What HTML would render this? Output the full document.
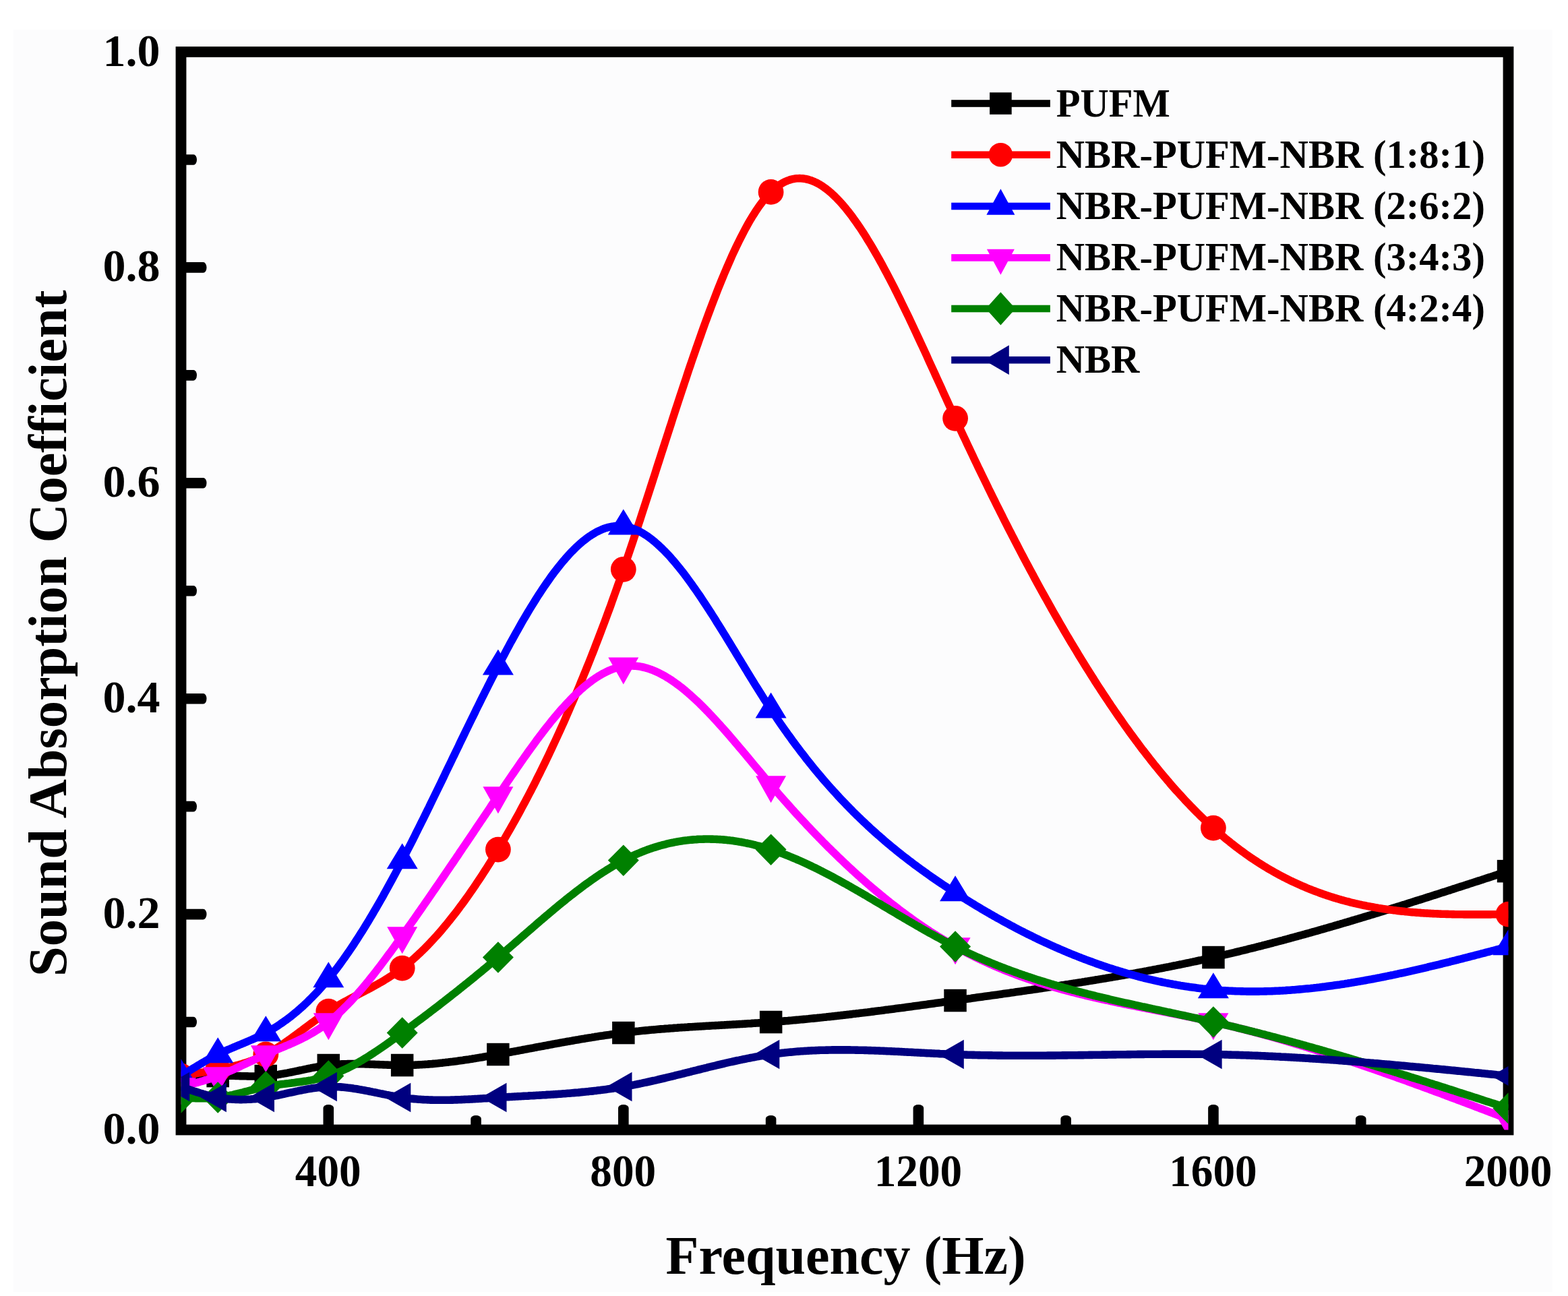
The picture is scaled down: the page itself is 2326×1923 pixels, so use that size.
<!DOCTYPE html>
<html><head><meta charset="utf-8"><title>Sound Absorption Coefficient</title>
<style>
html,body{margin:0;padding:0;background:#fff;}
svg{display:block;}
text{font-family:"Liberation Serif","Times New Roman",serif;font-weight:bold;fill:#000;}
</style></head><body>
<svg width="2326" height="1923" viewBox="0 0 2326 1923">
<rect x="0" y="0" width="2326" height="1923" fill="#ffffff"/>
<rect x="20" y="44" width="2283" height="1873" fill="#fcfcfd"/>
<defs><clipPath id="pa"><rect x="268.5" y="77.0" width="1969.0" height="1599.5"/></clipPath></defs>

<rect x="268.5" y="77.0" width="1969.0" height="1599.5" fill="none" stroke="#000" stroke-width="15.8"/>
<g fill="#000"><rect x="268.5" y="1508.75" width="23.5" height="15.6" rx="5" ry="7.8"/><rect x="268.5" y="1348.80" width="38.0" height="15.6" rx="5" ry="7.8"/><rect x="268.5" y="1188.85" width="23.5" height="15.6" rx="5" ry="7.8"/><rect x="268.5" y="1028.90" width="38.0" height="15.6" rx="5" ry="7.8"/><rect x="268.5" y="868.95" width="23.5" height="15.6" rx="5" ry="7.8"/><rect x="268.5" y="709.00" width="38.0" height="15.6" rx="5" ry="7.8"/><rect x="268.5" y="549.05" width="23.5" height="15.6" rx="5" ry="7.8"/><rect x="268.5" y="389.10" width="38.0" height="15.6" rx="5" ry="7.8"/><rect x="268.5" y="229.15" width="23.5" height="15.6" rx="5" ry="7.8"/><rect x="479.48" y="1639.0" width="15.6" height="37.5" rx="7.8" ry="5"/><rect x="698.26" y="1655.0" width="15.6" height="21.5" rx="7.8" ry="5"/><rect x="917.03" y="1639.0" width="15.6" height="37.5" rx="7.8" ry="5"/><rect x="1135.81" y="1655.0" width="15.6" height="21.5" rx="7.8" ry="5"/><rect x="1354.59" y="1639.0" width="15.6" height="37.5" rx="7.8" ry="5"/><rect x="1573.37" y="1655.0" width="15.6" height="21.5" rx="7.8" ry="5"/><rect x="1792.14" y="1639.0" width="15.6" height="37.5" rx="7.8" ry="5"/><rect x="2010.92" y="1655.0" width="15.6" height="21.5" rx="7.8" ry="5"/></g>
<text x="237.6" y="1697.0" font-size="68" text-anchor="end">0.0</text>
<text x="237.6" y="1377.1" font-size="68" text-anchor="end">0.2</text>
<text x="237.6" y="1057.2" font-size="68" text-anchor="end">0.4</text>
<text x="237.6" y="737.3" font-size="68" text-anchor="end">0.6</text>
<text x="237.6" y="417.4" font-size="68" text-anchor="end">0.8</text>
<text x="237.6" y="97.5" font-size="68" text-anchor="end">1.0</text>
<text transform="translate(486.8,1760.2) scale(0.96,1)" font-size="68" text-anchor="middle">400</text>
<text transform="translate(924.3,1760.2) scale(0.96,1)" font-size="68" text-anchor="middle">800</text>
<text transform="translate(1361.9,1760.2) scale(0.96,1)" font-size="68" text-anchor="middle">1200</text>
<text transform="translate(1799.4,1760.2) scale(0.96,1)" font-size="68" text-anchor="middle">1600</text>
<text transform="translate(2237.0,1760.2) scale(0.96,1)" font-size="68" text-anchor="middle">2000</text>
<text x="987.6" y="1890" font-size="80">Frequency (Hz)</text>
<text transform="translate(98.3,1449) rotate(-90)" x="0" y="0" font-size="80.4">Sound Absorption Coefficient</text>
<g clip-path="url(#pa)">
<polyline points="268.5,1604.5 270.7,1604.1 272.9,1603.7 275.1,1603.3 277.3,1602.8 279.5,1602.4 281.6,1602.0 283.8,1601.6 286.0,1601.2 288.2,1600.9 290.4,1600.5 292.6,1600.1 294.8,1599.8 297.0,1599.4 299.2,1599.1 301.4,1598.8 303.5,1598.4 305.7,1598.2 307.9,1597.9 310.1,1597.6 312.3,1597.4 314.5,1597.2 316.7,1597.0 318.9,1596.8 321.1,1596.7 323.3,1596.5 325.4,1596.4 327.6,1596.3 329.8,1596.3 332.0,1596.2 334.2,1596.2 336.4,1596.2 338.6,1596.2 340.8,1596.2 343.0,1596.2 345.2,1596.3 347.3,1596.3 349.5,1596.4 351.7,1596.5 353.9,1596.5 356.1,1596.6 358.3,1596.7 360.5,1596.7 362.7,1596.8 364.9,1596.8 367.1,1596.9 369.2,1597.0 371.4,1597.0 373.6,1597.0 375.8,1597.0 378.0,1597.0 380.2,1597.0 382.4,1597.0 384.6,1597.0 386.8,1596.9 389.0,1596.8 391.2,1596.7 393.3,1596.6 395.5,1596.4 397.7,1596.3 399.9,1596.0 402.1,1595.8 404.3,1595.6 406.5,1595.3 408.7,1595.0 410.9,1594.7 413.1,1594.4 415.2,1594.0 417.4,1593.6 419.6,1593.3 421.8,1592.9 424.0,1592.5 426.2,1592.1 428.4,1591.6 430.6,1591.2 432.8,1590.8 435.0,1590.3 437.1,1589.9 439.3,1589.4 441.5,1589.0 443.7,1588.5 445.9,1588.0 448.1,1587.6 450.3,1587.1 452.5,1586.6 454.7,1586.2 456.9,1585.7 459.0,1585.3 461.2,1584.8 463.4,1584.4 465.6,1584.0 467.8,1583.6 470.0,1583.2 472.2,1582.8 474.4,1582.4 476.6,1582.1 478.8,1581.7 481.0,1581.4 483.1,1581.1 485.3,1580.8 487.5,1580.5 489.7,1580.2 491.9,1580.0 494.1,1579.8 496.3,1579.6 498.5,1579.4 500.7,1579.3 502.9,1579.2 505.0,1579.0 507.2,1578.9 509.4,1578.8 511.6,1578.8 513.8,1578.7 516.0,1578.6 518.2,1578.6 520.4,1578.6 522.6,1578.6 524.8,1578.6 526.9,1578.6 529.1,1578.6 531.3,1578.6 533.5,1578.7 535.7,1578.7 537.9,1578.8 540.1,1578.8 542.3,1578.9 544.5,1579.0 546.7,1579.0 548.8,1579.1 551.0,1579.2 553.2,1579.3 555.4,1579.4 557.6,1579.5 559.8,1579.5 562.0,1579.6 564.2,1579.7 566.4,1579.8 568.6,1579.9 570.7,1580.0 572.9,1580.0 575.1,1580.1 577.3,1580.2 579.5,1580.3 581.7,1580.3 583.9,1580.4 586.1,1580.4 588.3,1580.5 590.5,1580.5 592.7,1580.5 594.8,1580.5 597.0,1580.5 599.2,1580.5 601.4,1580.5 603.6,1580.5 605.8,1580.4 608.0,1580.4 610.2,1580.3 612.4,1580.3 614.6,1580.2 616.7,1580.1 618.9,1580.0 621.1,1579.9 623.3,1579.8 625.5,1579.7 627.7,1579.5 629.9,1579.4 632.1,1579.2 634.3,1579.1 636.5,1578.9 638.6,1578.7 640.8,1578.6 643.0,1578.4 645.2,1578.2 647.4,1578.0 649.6,1577.8 651.8,1577.5 654.0,1577.3 656.2,1577.1 658.4,1576.8 660.5,1576.6 662.7,1576.3 664.9,1576.1 667.1,1575.8 669.3,1575.5 671.5,1575.3 673.7,1575.0 675.9,1574.7 678.1,1574.4 680.3,1574.1 682.4,1573.8 684.6,1573.5 686.8,1573.2 689.0,1572.8 691.2,1572.5 693.4,1572.2 695.6,1571.9 697.8,1571.5 700.0,1571.2 702.2,1570.8 704.4,1570.5 706.5,1570.1 708.7,1569.8 710.9,1569.4 713.1,1569.0 715.3,1568.7 717.5,1568.3 719.7,1567.9 721.9,1567.5 724.1,1567.2 726.3,1566.8 728.4,1566.4 730.6,1566.0 732.8,1565.6 735.0,1565.2 737.2,1564.8 739.4,1564.4 741.6,1564.0 743.8,1563.6 746.0,1563.2 748.2,1562.8 750.3,1562.4 752.5,1562.0 754.7,1561.6 756.9,1561.2 759.1,1560.8 761.3,1560.4 763.5,1560.0 765.7,1559.6 767.9,1559.2 770.1,1558.8 772.2,1558.4 774.4,1558.0 776.6,1557.5 778.8,1557.1 781.0,1556.7 783.2,1556.3 785.4,1555.9 787.6,1555.5 789.8,1555.1 792.0,1554.7 794.2,1554.2 796.3,1553.8 798.5,1553.4 800.7,1553.0 802.9,1552.6 805.1,1552.2 807.3,1551.8 809.5,1551.4 811.7,1551.0 813.9,1550.5 816.1,1550.1 818.2,1549.7 820.4,1549.3 822.6,1548.9 824.8,1548.5 827.0,1548.1 829.2,1547.7 831.4,1547.3 833.6,1546.9 835.8,1546.5 838.0,1546.1 840.1,1545.7 842.3,1545.3 844.5,1545.0 846.7,1544.6 848.9,1544.2 851.1,1543.8 853.3,1543.4 855.5,1543.0 857.7,1542.7 859.9,1542.3 862.0,1541.9 864.2,1541.5 866.4,1541.2 868.6,1540.8 870.8,1540.4 873.0,1540.1 875.2,1539.7 877.4,1539.4 879.6,1539.0 881.8,1538.7 883.9,1538.3 886.1,1538.0 888.3,1537.6 890.5,1537.3 892.7,1537.0 894.9,1536.7 897.1,1536.3 899.3,1536.0 901.5,1535.7 903.7,1535.4 905.9,1535.1 908.0,1534.8 910.2,1534.5 912.4,1534.2 914.6,1533.9 916.8,1533.6 919.0,1533.3 921.2,1533.0 923.4,1532.7 925.6,1532.5 927.8,1532.2 929.9,1531.9 932.1,1531.7 934.3,1531.4 936.5,1531.2 938.7,1530.9 940.9,1530.7 943.1,1530.4 945.3,1530.2 947.5,1530.0 949.7,1529.7 951.8,1529.5 954.0,1529.3 956.2,1529.1 958.4,1528.9 960.6,1528.7 962.8,1528.4 965.0,1528.2 967.2,1528.0 969.4,1527.9 971.6,1527.7 973.7,1527.5 975.9,1527.3 978.1,1527.1 980.3,1526.9 982.5,1526.7 984.7,1526.6 986.9,1526.4 989.1,1526.2 991.3,1526.1 993.5,1525.9 995.7,1525.7 997.8,1525.6 1000.0,1525.4 1002.2,1525.2 1004.4,1525.1 1006.6,1524.9 1008.8,1524.8 1011.0,1524.6 1013.2,1524.5 1015.4,1524.4 1017.6,1524.2 1019.7,1524.1 1021.9,1523.9 1024.1,1523.8 1026.3,1523.7 1028.5,1523.5 1030.7,1523.4 1032.9,1523.2 1035.1,1523.1 1037.3,1523.0 1039.5,1522.9 1041.6,1522.7 1043.8,1522.6 1046.0,1522.5 1048.2,1522.3 1050.4,1522.2 1052.6,1522.1 1054.8,1522.0 1057.0,1521.8 1059.2,1521.7 1061.4,1521.6 1063.5,1521.5 1065.7,1521.4 1067.9,1521.2 1070.1,1521.1 1072.3,1521.0 1074.5,1520.9 1076.7,1520.7 1078.9,1520.6 1081.1,1520.5 1083.3,1520.4 1085.4,1520.2 1087.6,1520.1 1089.8,1520.0 1092.0,1519.9 1094.2,1519.7 1096.4,1519.6 1098.6,1519.5 1100.8,1519.4 1103.0,1519.2 1105.2,1519.1 1107.4,1519.0 1109.5,1518.8 1111.7,1518.7 1113.9,1518.6 1116.1,1518.4 1118.3,1518.3 1120.5,1518.1 1122.7,1518.0 1124.9,1517.9 1127.1,1517.7 1129.3,1517.6 1131.4,1517.4 1133.6,1517.3 1135.8,1517.1 1138.0,1517.0 1140.2,1516.8 1142.4,1516.6 1144.6,1516.5 1146.8,1516.3 1149.0,1516.1 1151.2,1516.0 1153.3,1515.8 1155.5,1515.6 1157.7,1515.5 1159.9,1515.3 1162.1,1515.1 1164.3,1514.9 1166.5,1514.7 1168.7,1514.6 1170.9,1514.4 1173.1,1514.2 1175.2,1514.0 1177.4,1513.8 1179.6,1513.6 1181.8,1513.4 1184.0,1513.2 1186.2,1513.0 1188.4,1512.8 1190.6,1512.6 1192.8,1512.4 1195.0,1512.2 1197.1,1512.0 1199.3,1511.8 1201.5,1511.5 1203.7,1511.3 1205.9,1511.1 1208.1,1510.9 1210.3,1510.7 1212.5,1510.4 1214.7,1510.2 1216.9,1510.0 1219.1,1509.8 1221.2,1509.5 1223.4,1509.3 1225.6,1509.1 1227.8,1508.8 1230.0,1508.6 1232.2,1508.4 1234.4,1508.1 1236.6,1507.9 1238.8,1507.6 1241.0,1507.4 1243.1,1507.1 1245.3,1506.9 1247.5,1506.6 1249.7,1506.4 1251.9,1506.1 1254.1,1505.9 1256.3,1505.6 1258.5,1505.4 1260.7,1505.1 1262.9,1504.9 1265.0,1504.6 1267.2,1504.3 1269.4,1504.1 1271.6,1503.8 1273.8,1503.6 1276.0,1503.3 1278.2,1503.0 1280.4,1502.8 1282.6,1502.5 1284.8,1502.2 1286.9,1502.0 1289.1,1501.7 1291.3,1501.4 1293.5,1501.1 1295.7,1500.9 1297.9,1500.6 1300.1,1500.3 1302.3,1500.0 1304.5,1499.7 1306.7,1499.5 1308.9,1499.2 1311.0,1498.9 1313.2,1498.6 1315.4,1498.3 1317.6,1498.1 1319.8,1497.8 1322.0,1497.5 1324.2,1497.2 1326.4,1496.9 1328.6,1496.6 1330.8,1496.3 1332.9,1496.0 1335.1,1495.7 1337.3,1495.5 1339.5,1495.2 1341.7,1494.9 1343.9,1494.6 1346.1,1494.3 1348.3,1494.0 1350.5,1493.7 1352.7,1493.4 1354.8,1493.1 1357.0,1492.8 1359.2,1492.5 1361.4,1492.2 1363.6,1491.9 1365.8,1491.6 1368.0,1491.3 1370.2,1491.0 1372.4,1490.7 1374.6,1490.4 1376.7,1490.1 1378.9,1489.8 1381.1,1489.5 1383.3,1489.2 1385.5,1488.9 1387.7,1488.6 1389.9,1488.3 1392.1,1488.0 1394.3,1487.7 1396.5,1487.4 1398.6,1487.1 1400.8,1486.8 1403.0,1486.5 1405.2,1486.2 1407.4,1485.9 1409.6,1485.6 1411.8,1485.3 1414.0,1485.0 1416.2,1484.7 1418.4,1484.4 1420.6,1484.1 1422.7,1483.8 1424.9,1483.5 1427.1,1483.2 1429.3,1482.9 1431.5,1482.6 1433.7,1482.3 1435.9,1482.0 1438.1,1481.7 1440.3,1481.4 1442.5,1481.0 1444.6,1480.7 1446.8,1480.4 1449.0,1480.1 1451.2,1479.8 1453.4,1479.5 1455.6,1479.2 1457.8,1478.9 1460.0,1478.6 1462.2,1478.3 1464.4,1478.0 1466.5,1477.7 1468.7,1477.4 1470.9,1477.1 1473.1,1476.8 1475.3,1476.5 1477.5,1476.2 1479.7,1475.9 1481.9,1475.6 1484.1,1475.2 1486.3,1474.9 1488.4,1474.6 1490.6,1474.3 1492.8,1474.0 1495.0,1473.7 1497.2,1473.4 1499.4,1473.1 1501.6,1472.8 1503.8,1472.5 1506.0,1472.1 1508.2,1471.8 1510.3,1471.5 1512.5,1471.2 1514.7,1470.9 1516.9,1470.6 1519.1,1470.3 1521.3,1469.9 1523.5,1469.6 1525.7,1469.3 1527.9,1469.0 1530.1,1468.7 1532.3,1468.3 1534.4,1468.0 1536.6,1467.7 1538.8,1467.4 1541.0,1467.1 1543.2,1466.7 1545.4,1466.4 1547.6,1466.1 1549.8,1465.8 1552.0,1465.4 1554.2,1465.1 1556.3,1464.8 1558.5,1464.5 1560.7,1464.1 1562.9,1463.8 1565.1,1463.5 1567.3,1463.1 1569.5,1462.8 1571.7,1462.5 1573.9,1462.1 1576.1,1461.8 1578.2,1461.5 1580.4,1461.1 1582.6,1460.8 1584.8,1460.5 1587.0,1460.1 1589.2,1459.8 1591.4,1459.4 1593.6,1459.1 1595.8,1458.8 1598.0,1458.4 1600.1,1458.1 1602.3,1457.7 1604.5,1457.4 1606.7,1457.0 1608.9,1456.7 1611.1,1456.3 1613.3,1456.0 1615.5,1455.6 1617.7,1455.3 1619.9,1454.9 1622.1,1454.6 1624.2,1454.2 1626.4,1453.8 1628.6,1453.5 1630.8,1453.1 1633.0,1452.8 1635.2,1452.4 1637.4,1452.0 1639.6,1451.7 1641.8,1451.3 1644.0,1450.9 1646.1,1450.6 1648.3,1450.2 1650.5,1449.8 1652.7,1449.4 1654.9,1449.1 1657.1,1448.7 1659.3,1448.3 1661.5,1447.9 1663.7,1447.6 1665.9,1447.2 1668.0,1446.8 1670.2,1446.4 1672.4,1446.0 1674.6,1445.6 1676.8,1445.2 1679.0,1444.8 1681.2,1444.5 1683.4,1444.1 1685.6,1443.7 1687.8,1443.3 1689.9,1442.9 1692.1,1442.5 1694.3,1442.1 1696.5,1441.7 1698.7,1441.3 1700.9,1440.9 1703.1,1440.4 1705.3,1440.0 1707.5,1439.6 1709.7,1439.2 1711.8,1438.8 1714.0,1438.4 1716.2,1438.0 1718.4,1437.5 1720.6,1437.1 1722.8,1436.7 1725.0,1436.3 1727.2,1435.8 1729.4,1435.4 1731.6,1435.0 1733.8,1434.6 1735.9,1434.1 1738.1,1433.7 1740.3,1433.2 1742.5,1432.8 1744.7,1432.4 1746.9,1431.9 1749.1,1431.5 1751.3,1431.0 1753.5,1430.6 1755.7,1430.1 1757.8,1429.7 1760.0,1429.2 1762.2,1428.8 1764.4,1428.3 1766.6,1427.8 1768.8,1427.4 1771.0,1426.9 1773.2,1426.5 1775.4,1426.0 1777.6,1425.5 1779.7,1425.0 1781.9,1424.6 1784.1,1424.1 1786.3,1423.6 1788.5,1423.1 1790.7,1422.6 1792.9,1422.2 1795.1,1421.7 1797.3,1421.2 1799.5,1420.7 1801.6,1420.2 1803.8,1419.7 1806.0,1419.2 1808.2,1418.7 1810.4,1418.2 1812.6,1417.7 1814.8,1417.2 1817.0,1416.7 1819.2,1416.2 1821.4,1415.6 1823.6,1415.1 1825.7,1414.6 1827.9,1414.1 1830.1,1413.6 1832.3,1413.0 1834.5,1412.5 1836.7,1412.0 1838.9,1411.5 1841.1,1410.9 1843.3,1410.4 1845.5,1409.9 1847.6,1409.3 1849.8,1408.8 1852.0,1408.2 1854.2,1407.7 1856.4,1407.2 1858.6,1406.6 1860.8,1406.1 1863.0,1405.5 1865.2,1404.9 1867.4,1404.4 1869.5,1403.8 1871.7,1403.3 1873.9,1402.7 1876.1,1402.2 1878.3,1401.6 1880.5,1401.0 1882.7,1400.5 1884.9,1399.9 1887.1,1399.3 1889.3,1398.7 1891.4,1398.2 1893.6,1397.6 1895.8,1397.0 1898.0,1396.4 1900.2,1395.8 1902.4,1395.3 1904.6,1394.7 1906.8,1394.1 1909.0,1393.5 1911.2,1392.9 1913.3,1392.3 1915.5,1391.7 1917.7,1391.1 1919.9,1390.5 1922.1,1389.9 1924.3,1389.3 1926.5,1388.7 1928.7,1388.1 1930.9,1387.5 1933.1,1386.9 1935.3,1386.3 1937.4,1385.7 1939.6,1385.1 1941.8,1384.5 1944.0,1383.9 1946.2,1383.2 1948.4,1382.6 1950.6,1382.0 1952.8,1381.4 1955.0,1380.8 1957.2,1380.1 1959.3,1379.5 1961.5,1378.9 1963.7,1378.3 1965.9,1377.6 1968.1,1377.0 1970.3,1376.4 1972.5,1375.7 1974.7,1375.1 1976.9,1374.5 1979.1,1373.8 1981.2,1373.2 1983.4,1372.6 1985.6,1371.9 1987.8,1371.3 1990.0,1370.6 1992.2,1370.0 1994.4,1369.3 1996.6,1368.7 1998.8,1368.1 2001.0,1367.4 2003.1,1366.8 2005.3,1366.1 2007.5,1365.4 2009.7,1364.8 2011.9,1364.1 2014.1,1363.5 2016.3,1362.8 2018.5,1362.2 2020.7,1361.5 2022.9,1360.8 2025.0,1360.2 2027.2,1359.5 2029.4,1358.9 2031.6,1358.2 2033.8,1357.5 2036.0,1356.9 2038.2,1356.2 2040.4,1355.5 2042.6,1354.9 2044.8,1354.2 2047.0,1353.5 2049.1,1352.8 2051.3,1352.2 2053.5,1351.5 2055.7,1350.8 2057.9,1350.1 2060.1,1349.5 2062.3,1348.8 2064.5,1348.1 2066.7,1347.4 2068.9,1346.7 2071.0,1346.1 2073.2,1345.4 2075.4,1344.7 2077.6,1344.0 2079.8,1343.3 2082.0,1342.6 2084.2,1342.0 2086.4,1341.3 2088.6,1340.6 2090.8,1339.9 2092.9,1339.2 2095.1,1338.5 2097.3,1337.8 2099.5,1337.1 2101.7,1336.4 2103.9,1335.7 2106.1,1335.1 2108.3,1334.4 2110.5,1333.7 2112.7,1333.0 2114.8,1332.3 2117.0,1331.6 2119.2,1330.9 2121.4,1330.2 2123.6,1329.5 2125.8,1328.8 2128.0,1328.1 2130.2,1327.4 2132.4,1326.7 2134.6,1326.0 2136.8,1325.3 2138.9,1324.6 2141.1,1323.9 2143.3,1323.2 2145.5,1322.5 2147.7,1321.8 2149.9,1321.1 2152.1,1320.4 2154.3,1319.6 2156.5,1318.9 2158.7,1318.2 2160.8,1317.5 2163.0,1316.8 2165.2,1316.1 2167.4,1315.4 2169.6,1314.7 2171.8,1314.0 2174.0,1313.3 2176.2,1312.6 2178.4,1311.9 2180.6,1311.1 2182.7,1310.4 2184.9,1309.7 2187.1,1309.0 2189.3,1308.3 2191.5,1307.6 2193.7,1306.9 2195.9,1306.2 2198.1,1305.5 2200.3,1304.7 2202.5,1304.0 2204.6,1303.3 2206.8,1302.6 2209.0,1301.9 2211.2,1301.2 2213.4,1300.5 2215.6,1299.8 2217.8,1299.0 2220.0,1298.3 2222.2,1297.6 2224.4,1296.9 2226.5,1296.2 2228.7,1295.5 2230.9,1294.8 2233.1,1294.0 2235.3,1293.3 2237.5,1292.6" fill="none" stroke="#000000" stroke-width="11.6" stroke-linejoin="round"/>
<rect x="251.8" y="1587.8" width="33.5" height="33.5" fill="#000000"/>
<rect x="306.4" y="1579.8" width="33.5" height="33.5" fill="#000000"/>
<rect x="377.5" y="1579.8" width="33.5" height="33.5" fill="#000000"/>
<rect x="470.5" y="1563.8" width="33.5" height="33.5" fill="#000000"/>
<rect x="579.9" y="1563.8" width="33.5" height="33.5" fill="#000000"/>
<rect x="722.1" y="1547.8" width="33.5" height="33.5" fill="#000000"/>
<rect x="908.1" y="1515.8" width="33.5" height="33.5" fill="#000000"/>
<rect x="1126.9" y="1499.8" width="33.5" height="33.5" fill="#000000"/>
<rect x="1400.3" y="1467.8" width="33.5" height="33.5" fill="#000000"/>
<rect x="1783.2" y="1403.8" width="33.5" height="33.5" fill="#000000"/>
<rect x="2220.8" y="1275.9" width="33.5" height="33.5" fill="#000000"/>
<polyline points="268.5,1596.5 270.7,1596.2 272.9,1595.8 275.1,1595.4 277.3,1595.1 279.5,1594.7 281.6,1594.3 283.8,1594.0 286.0,1593.6 288.2,1593.2 290.4,1592.9 292.6,1592.5 294.8,1592.1 297.0,1591.7 299.2,1591.3 301.4,1591.0 303.5,1590.6 305.7,1590.2 307.9,1589.8 310.1,1589.4 312.3,1589.0 314.5,1588.6 316.7,1588.2 318.9,1587.8 321.1,1587.3 323.3,1586.9 325.4,1586.5 327.6,1586.1 329.8,1585.6 332.0,1585.2 334.2,1584.7 336.4,1584.2 338.6,1583.8 340.8,1583.3 343.0,1582.8 345.2,1582.2 347.3,1581.7 349.5,1581.2 351.7,1580.6 353.9,1580.0 356.1,1579.4 358.3,1578.8 360.5,1578.1 362.7,1577.4 364.9,1576.7 367.1,1576.0 369.2,1575.3 371.4,1574.5 373.6,1573.7 375.8,1572.9 378.0,1572.0 380.2,1571.1 382.4,1570.2 384.6,1569.2 386.8,1568.2 389.0,1567.2 391.2,1566.1 393.3,1565.0 395.5,1563.9 397.7,1562.7 399.9,1561.5 402.1,1560.2 404.3,1559.0 406.5,1557.6 408.7,1556.3 410.9,1554.9 413.1,1553.5 415.2,1552.1 417.4,1550.6 419.6,1549.2 421.8,1547.7 424.0,1546.1 426.2,1544.6 428.4,1543.0 430.6,1541.5 432.8,1539.9 435.0,1538.3 437.1,1536.7 439.3,1535.1 441.5,1533.5 443.7,1531.8 445.9,1530.2 448.1,1528.6 450.3,1526.9 452.5,1525.3 454.7,1523.7 456.9,1522.0 459.0,1520.4 461.2,1518.8 463.4,1517.2 465.6,1515.6 467.8,1514.0 470.0,1512.4 472.2,1510.8 474.4,1509.3 476.6,1507.8 478.8,1506.2 481.0,1504.7 483.1,1503.3 485.3,1501.8 487.5,1500.4 489.7,1499.0 491.9,1497.6 494.1,1496.3 496.3,1494.9 498.5,1493.6 500.7,1492.3 502.9,1491.1 505.0,1489.8 507.2,1488.6 509.4,1487.4 511.6,1486.2 513.8,1485.0 516.0,1483.8 518.2,1482.6 520.4,1481.4 522.6,1480.3 524.8,1479.1 526.9,1478.0 529.1,1476.8 531.3,1475.7 533.5,1474.5 535.7,1473.4 537.9,1472.2 540.1,1471.1 542.3,1469.9 544.5,1468.8 546.7,1467.6 548.8,1466.5 551.0,1465.3 553.2,1464.1 555.4,1462.9 557.6,1461.7 559.8,1460.5 562.0,1459.2 564.2,1458.0 566.4,1456.7 568.6,1455.4 570.7,1454.1 572.9,1452.7 575.1,1451.4 577.3,1450.0 579.5,1448.6 581.7,1447.2 583.9,1445.7 586.1,1444.2 588.3,1442.7 590.5,1441.1 592.7,1439.6 594.8,1437.9 597.0,1436.3 599.2,1434.6 601.4,1432.9 603.6,1431.1 605.8,1429.3 608.0,1427.5 610.2,1425.6 612.4,1423.8 614.6,1421.8 616.7,1419.9 618.9,1417.9 621.1,1415.8 623.3,1413.7 625.5,1411.6 627.7,1409.5 629.9,1407.3 632.1,1405.1 634.3,1402.9 636.5,1400.6 638.6,1398.3 640.8,1396.0 643.0,1393.6 645.2,1391.2 647.4,1388.8 649.6,1386.3 651.8,1383.8 654.0,1381.3 656.2,1378.7 658.4,1376.1 660.5,1373.5 662.7,1370.9 664.9,1368.2 667.1,1365.5 669.3,1362.7 671.5,1359.9 673.7,1357.1 675.9,1354.3 678.1,1351.4 680.3,1348.5 682.4,1345.6 684.6,1342.7 686.8,1339.7 689.0,1336.7 691.2,1333.6 693.4,1330.6 695.6,1327.5 697.8,1324.3 700.0,1321.2 702.2,1318.0 704.4,1314.8 706.5,1311.5 708.7,1308.3 710.9,1305.0 713.1,1301.7 715.3,1298.3 717.5,1294.9 719.7,1291.5 721.9,1288.1 724.1,1284.7 726.3,1281.2 728.4,1277.7 730.6,1274.1 732.8,1270.6 735.0,1267.0 737.2,1263.4 739.4,1259.8 741.6,1256.1 743.8,1252.4 746.0,1248.7 748.2,1245.0 750.3,1241.2 752.5,1237.4 754.7,1233.6 756.9,1229.8 759.1,1225.9 761.3,1222.0 763.5,1218.1 765.7,1214.2 767.9,1210.2 770.1,1206.2 772.2,1202.2 774.4,1198.1 776.6,1194.0 778.8,1189.9 781.0,1185.8 783.2,1181.6 785.4,1177.4 787.6,1173.2 789.8,1168.9 792.0,1164.7 794.2,1160.4 796.3,1156.0 798.5,1151.7 800.7,1147.3 802.9,1142.8 805.1,1138.4 807.3,1133.9 809.5,1129.4 811.7,1124.8 813.9,1120.2 816.1,1115.6 818.2,1111.0 820.4,1106.3 822.6,1101.6 824.8,1096.9 827.0,1092.1 829.2,1087.3 831.4,1082.5 833.6,1077.7 835.8,1072.8 838.0,1067.8 840.1,1062.9 842.3,1057.9 844.5,1052.9 846.7,1047.8 848.9,1042.7 851.1,1037.6 853.3,1032.5 855.5,1027.3 857.7,1022.1 859.9,1016.8 862.0,1011.5 864.2,1006.2 866.4,1000.8 868.6,995.5 870.8,990.0 873.0,984.6 875.2,979.1 877.4,973.5 879.6,968.0 881.8,962.4 883.9,956.7 886.1,951.1 888.3,945.4 890.5,939.6 892.7,933.8 894.9,928.0 897.1,922.2 899.3,916.3 901.5,910.3 903.7,904.4 905.9,898.4 908.0,892.3 910.2,886.3 912.4,880.1 914.6,874.0 916.8,867.8 919.0,861.6 921.2,855.3 923.4,849.0 925.6,842.6 927.8,836.3 929.9,829.8 932.1,823.4 934.3,816.9 936.5,810.4 938.7,803.8 940.9,797.2 943.1,790.6 945.3,784.0 947.5,777.3 949.7,770.7 951.8,764.0 954.0,757.2 956.2,750.5 958.4,743.8 960.6,737.0 962.8,730.2 965.0,723.4 967.2,716.6 969.4,709.8 971.6,703.0 973.7,696.2 975.9,689.4 978.1,682.6 980.3,675.7 982.5,668.9 984.7,662.1 986.9,655.3 989.1,648.5 991.3,641.7 993.5,634.9 995.7,628.2 997.8,621.4 1000.0,614.7 1002.2,607.9 1004.4,601.2 1006.6,594.5 1008.8,587.9 1011.0,581.2 1013.2,574.6 1015.4,568.0 1017.6,561.5 1019.7,554.9 1021.9,548.4 1024.1,542.0 1026.3,535.5 1028.5,529.1 1030.7,522.8 1032.9,516.4 1035.1,510.2 1037.3,503.9 1039.5,497.7 1041.6,491.6 1043.8,485.5 1046.0,479.4 1048.2,473.4 1050.4,467.5 1052.6,461.6 1054.8,455.7 1057.0,450.0 1059.2,444.2 1061.4,438.6 1063.5,433.0 1065.7,427.4 1067.9,422.0 1070.1,416.5 1072.3,411.2 1074.5,405.9 1076.7,400.7 1078.9,395.6 1081.1,390.6 1083.3,385.6 1085.4,380.7 1087.6,375.9 1089.8,371.2 1092.0,366.5 1094.2,361.9 1096.4,357.5 1098.6,353.1 1100.8,348.8 1103.0,344.6 1105.2,340.4 1107.4,336.4 1109.5,332.5 1111.7,328.7 1113.9,324.9 1116.1,321.3 1118.3,317.8 1120.5,314.3 1122.7,311.0 1124.9,307.8 1127.1,304.7 1129.3,301.7 1131.4,298.8 1133.6,296.1 1135.8,293.4 1138.0,290.9 1140.2,288.5 1142.4,286.2 1144.6,284.0 1146.8,281.9 1149.0,280.0 1151.2,278.2 1153.3,276.5 1155.5,274.9 1157.7,273.5 1159.9,272.1 1162.1,270.9 1164.3,269.8 1166.5,268.8 1168.7,267.9 1170.9,267.1 1173.1,266.4 1175.2,265.9 1177.4,265.4 1179.6,265.1 1181.8,264.8 1184.0,264.7 1186.2,264.6 1188.4,264.7 1190.6,264.9 1192.8,265.1 1195.0,265.5 1197.1,266.0 1199.3,266.5 1201.5,267.2 1203.7,267.9 1205.9,268.8 1208.1,269.7 1210.3,270.7 1212.5,271.8 1214.7,273.0 1216.9,274.3 1219.1,275.7 1221.2,277.1 1223.4,278.7 1225.6,280.3 1227.8,282.0 1230.0,283.8 1232.2,285.7 1234.4,287.6 1236.6,289.7 1238.8,291.8 1241.0,294.0 1243.1,296.2 1245.3,298.5 1247.5,300.9 1249.7,303.4 1251.9,306.0 1254.1,308.6 1256.3,311.3 1258.5,314.0 1260.7,316.8 1262.9,319.7 1265.0,322.7 1267.2,325.7 1269.4,328.7 1271.6,331.9 1273.8,335.1 1276.0,338.3 1278.2,341.6 1280.4,345.0 1282.6,348.4 1284.8,351.9 1286.9,355.4 1289.1,359.0 1291.3,362.6 1293.5,366.3 1295.7,370.0 1297.9,373.8 1300.1,377.6 1302.3,381.5 1304.5,385.4 1306.7,389.3 1308.9,393.3 1311.0,397.4 1313.2,401.5 1315.4,405.6 1317.6,409.7 1319.8,413.9 1322.0,418.2 1324.2,422.4 1326.4,426.7 1328.6,431.1 1330.8,435.4 1332.9,439.8 1335.1,444.2 1337.3,448.7 1339.5,453.2 1341.7,457.7 1343.9,462.2 1346.1,466.8 1348.3,471.3 1350.5,475.9 1352.7,480.6 1354.8,485.2 1357.0,489.9 1359.2,494.5 1361.4,499.2 1363.6,504.0 1365.8,508.7 1368.0,513.4 1370.2,518.2 1372.4,522.9 1374.6,527.7 1376.7,532.5 1378.9,537.3 1381.1,542.1 1383.3,546.9 1385.5,551.7 1387.7,556.5 1389.9,561.3 1392.1,566.1 1394.3,570.9 1396.5,575.7 1398.6,580.5 1400.8,585.4 1403.0,590.2 1405.2,595.0 1407.4,599.8 1409.6,604.5 1411.8,609.3 1414.0,614.1 1416.2,618.9 1418.4,623.6 1420.6,628.3 1422.7,633.1 1424.9,637.8 1427.1,642.5 1429.3,647.2 1431.5,651.8 1433.7,656.5 1435.9,661.2 1438.1,665.8 1440.3,670.4 1442.5,675.0 1444.6,679.6 1446.8,684.2 1449.0,688.8 1451.2,693.4 1453.4,697.9 1455.6,702.5 1457.8,707.0 1460.0,711.5 1462.2,716.0 1464.4,720.5 1466.5,725.0 1468.7,729.4 1470.9,733.9 1473.1,738.3 1475.3,742.7 1477.5,747.2 1479.7,751.6 1481.9,755.9 1484.1,760.3 1486.3,764.7 1488.4,769.0 1490.6,773.3 1492.8,777.7 1495.0,782.0 1497.2,786.3 1499.4,790.5 1501.6,794.8 1503.8,799.0 1506.0,803.3 1508.2,807.5 1510.3,811.7 1512.5,815.9 1514.7,820.1 1516.9,824.3 1519.1,828.4 1521.3,832.6 1523.5,836.7 1525.7,840.8 1527.9,844.9 1530.1,849.0 1532.3,853.0 1534.4,857.1 1536.6,861.1 1538.8,865.2 1541.0,869.2 1543.2,873.2 1545.4,877.2 1547.6,881.1 1549.8,885.1 1552.0,889.0 1554.2,892.9 1556.3,896.8 1558.5,900.7 1560.7,904.6 1562.9,908.5 1565.1,912.3 1567.3,916.2 1569.5,920.0 1571.7,923.8 1573.9,927.6 1576.1,931.4 1578.2,935.1 1580.4,938.9 1582.6,942.6 1584.8,946.3 1587.0,950.0 1589.2,953.7 1591.4,957.3 1593.6,961.0 1595.8,964.6 1598.0,968.3 1600.1,971.9 1602.3,975.4 1604.5,979.0 1606.7,982.6 1608.9,986.1 1611.1,989.6 1613.3,993.2 1615.5,996.6 1617.7,1000.1 1619.9,1003.6 1622.1,1007.0 1624.2,1010.5 1626.4,1013.9 1628.6,1017.3 1630.8,1020.6 1633.0,1024.0 1635.2,1027.4 1637.4,1030.7 1639.6,1034.0 1641.8,1037.3 1644.0,1040.6 1646.1,1043.8 1648.3,1047.1 1650.5,1050.3 1652.7,1053.5 1654.9,1056.7 1657.1,1059.9 1659.3,1063.1 1661.5,1066.2 1663.7,1069.4 1665.9,1072.5 1668.0,1075.6 1670.2,1078.6 1672.4,1081.7 1674.6,1084.7 1676.8,1087.8 1679.0,1090.8 1681.2,1093.8 1683.4,1096.7 1685.6,1099.7 1687.8,1102.6 1689.9,1105.6 1692.1,1108.5 1694.3,1111.4 1696.5,1114.2 1698.7,1117.1 1700.9,1119.9 1703.1,1122.7 1705.3,1125.5 1707.5,1128.3 1709.7,1131.1 1711.8,1133.8 1714.0,1136.5 1716.2,1139.2 1718.4,1141.9 1720.6,1144.6 1722.8,1147.2 1725.0,1149.9 1727.2,1152.5 1729.4,1155.1 1731.6,1157.7 1733.8,1160.2 1735.9,1162.8 1738.1,1165.3 1740.3,1167.8 1742.5,1170.3 1744.7,1172.8 1746.9,1175.2 1749.1,1177.6 1751.3,1180.0 1753.5,1182.4 1755.7,1184.8 1757.8,1187.2 1760.0,1189.5 1762.2,1191.8 1764.4,1194.1 1766.6,1196.4 1768.8,1198.6 1771.0,1200.9 1773.2,1203.1 1775.4,1205.3 1777.6,1207.5 1779.7,1209.6 1781.9,1211.8 1784.1,1213.9 1786.3,1216.0 1788.5,1218.1 1790.7,1220.1 1792.9,1222.2 1795.1,1224.2 1797.3,1226.2 1799.5,1228.2 1801.6,1230.2 1803.8,1232.1 1806.0,1234.0 1808.2,1235.9 1810.4,1237.8 1812.6,1239.7 1814.8,1241.5 1817.0,1243.4 1819.2,1245.2 1821.4,1247.0 1823.6,1248.7 1825.7,1250.5 1827.9,1252.2 1830.1,1253.9 1832.3,1255.6 1834.5,1257.3 1836.7,1258.9 1838.9,1260.6 1841.1,1262.2 1843.3,1263.8 1845.5,1265.4 1847.6,1267.0 1849.8,1268.5 1852.0,1270.0 1854.2,1271.6 1856.4,1273.1 1858.6,1274.5 1860.8,1276.0 1863.0,1277.4 1865.2,1278.9 1867.4,1280.3 1869.5,1281.7 1871.7,1283.1 1873.9,1284.4 1876.1,1285.8 1878.3,1287.1 1880.5,1288.4 1882.7,1289.7 1884.9,1291.0 1887.1,1292.2 1889.3,1293.5 1891.4,1294.7 1893.6,1295.9 1895.8,1297.1 1898.0,1298.3 1900.2,1299.5 1902.4,1300.6 1904.6,1301.8 1906.8,1302.9 1909.0,1304.0 1911.2,1305.1 1913.3,1306.2 1915.5,1307.2 1917.7,1308.3 1919.9,1309.3 1922.1,1310.3 1924.3,1311.3 1926.5,1312.3 1928.7,1313.3 1930.9,1314.3 1933.1,1315.2 1935.3,1316.1 1937.4,1317.1 1939.6,1318.0 1941.8,1318.9 1944.0,1319.7 1946.2,1320.6 1948.4,1321.5 1950.6,1322.3 1952.8,1323.1 1955.0,1323.9 1957.2,1324.7 1959.3,1325.5 1961.5,1326.3 1963.7,1327.1 1965.9,1327.8 1968.1,1328.6 1970.3,1329.3 1972.5,1330.0 1974.7,1330.7 1976.9,1331.4 1979.1,1332.1 1981.2,1332.7 1983.4,1333.4 1985.6,1334.0 1987.8,1334.7 1990.0,1335.3 1992.2,1335.9 1994.4,1336.5 1996.6,1337.1 1998.8,1337.6 2001.0,1338.2 2003.1,1338.8 2005.3,1339.3 2007.5,1339.8 2009.7,1340.4 2011.9,1340.9 2014.1,1341.4 2016.3,1341.9 2018.5,1342.3 2020.7,1342.8 2022.9,1343.3 2025.0,1343.7 2027.2,1344.2 2029.4,1344.6 2031.6,1345.0 2033.8,1345.4 2036.0,1345.8 2038.2,1346.2 2040.4,1346.6 2042.6,1347.0 2044.8,1347.4 2047.0,1347.7 2049.1,1348.1 2051.3,1348.4 2053.5,1348.7 2055.7,1349.1 2057.9,1349.4 2060.1,1349.7 2062.3,1350.0 2064.5,1350.3 2066.7,1350.6 2068.9,1350.8 2071.0,1351.1 2073.2,1351.4 2075.4,1351.6 2077.6,1351.9 2079.8,1352.1 2082.0,1352.3 2084.2,1352.6 2086.4,1352.8 2088.6,1353.0 2090.8,1353.2 2092.9,1353.4 2095.1,1353.6 2097.3,1353.8 2099.5,1353.9 2101.7,1354.1 2103.9,1354.3 2106.1,1354.4 2108.3,1354.6 2110.5,1354.7 2112.7,1354.9 2114.8,1355.0 2117.0,1355.1 2119.2,1355.3 2121.4,1355.4 2123.6,1355.5 2125.8,1355.6 2128.0,1355.7 2130.2,1355.8 2132.4,1355.9 2134.6,1356.0 2136.8,1356.1 2138.9,1356.2 2141.1,1356.2 2143.3,1356.3 2145.5,1356.4 2147.7,1356.4 2149.9,1356.5 2152.1,1356.5 2154.3,1356.6 2156.5,1356.6 2158.7,1356.7 2160.8,1356.7 2163.0,1356.8 2165.2,1356.8 2167.4,1356.8 2169.6,1356.8 2171.8,1356.9 2174.0,1356.9 2176.2,1356.9 2178.4,1356.9 2180.6,1356.9 2182.7,1356.9 2184.9,1356.9 2187.1,1356.9 2189.3,1356.9 2191.5,1356.9 2193.7,1356.9 2195.9,1356.9 2198.1,1356.9 2200.3,1356.9 2202.5,1356.9 2204.6,1356.9 2206.8,1356.9 2209.0,1356.9 2211.2,1356.9 2213.4,1356.8 2215.6,1356.8 2217.8,1356.8 2220.0,1356.8 2222.2,1356.8 2224.4,1356.7 2226.5,1356.7 2228.7,1356.7 2230.9,1356.7 2233.1,1356.6 2235.3,1356.6 2237.5,1356.6" fill="none" stroke="#ff0000" stroke-width="11.6" stroke-linejoin="round"/>
<circle cx="268.5" cy="1596.5" r="18.9" fill="#ff0000"/>
<circle cx="323.2" cy="1586.9" r="18.9" fill="#ff0000"/>
<circle cx="394.3" cy="1564.5" r="18.9" fill="#ff0000"/>
<circle cx="487.3" cy="1500.6" r="18.9" fill="#ff0000"/>
<circle cx="596.7" cy="1436.6" r="18.9" fill="#ff0000"/>
<circle cx="738.9" cy="1260.6" r="18.9" fill="#ff0000"/>
<circle cx="924.8" cy="844.8" r="18.9" fill="#ff0000"/>
<circle cx="1143.6" cy="284.9" r="18.9" fill="#ff0000"/>
<circle cx="1417.1" cy="620.8" r="18.9" fill="#ff0000"/>
<circle cx="1799.9" cy="1228.6" r="18.9" fill="#ff0000"/>
<circle cx="2237.5" cy="1356.6" r="18.9" fill="#ff0000"/>
<polyline points="268.5,1596.5 270.7,1595.1 272.9,1593.8 275.1,1592.4 277.3,1591.0 279.5,1589.6 281.6,1588.3 283.8,1586.9 286.0,1585.6 288.2,1584.2 290.4,1582.9 292.6,1581.6 294.8,1580.2 297.0,1578.9 299.2,1577.6 301.4,1576.4 303.5,1575.1 305.7,1573.8 307.9,1572.6 310.1,1571.4 312.3,1570.2 314.5,1569.0 316.7,1567.9 318.9,1566.7 321.1,1565.6 323.3,1564.5 325.4,1563.4 327.6,1562.4 329.8,1561.4 332.0,1560.3 334.2,1559.4 336.4,1558.4 338.6,1557.4 340.8,1556.5 343.0,1555.5 345.2,1554.6 347.3,1553.7 349.5,1552.8 351.7,1551.8 353.9,1550.9 356.1,1550.0 358.3,1549.1 360.5,1548.2 362.7,1547.3 364.9,1546.3 367.1,1545.4 369.2,1544.5 371.4,1543.5 373.6,1542.6 375.8,1541.6 378.0,1540.6 380.2,1539.6 382.4,1538.5 384.6,1537.5 386.8,1536.4 389.0,1535.3 391.2,1534.2 393.3,1533.1 395.5,1531.9 397.7,1530.7 399.9,1529.4 402.1,1528.2 404.3,1526.9 406.5,1525.5 408.7,1524.2 410.9,1522.8 413.1,1521.4 415.2,1519.9 417.4,1518.4 419.6,1516.9 421.8,1515.3 424.0,1513.8 426.2,1512.1 428.4,1510.5 430.6,1508.8 432.8,1507.1 435.0,1505.3 437.1,1503.5 439.3,1501.7 441.5,1499.9 443.7,1498.0 445.9,1496.0 448.1,1494.1 450.3,1492.1 452.5,1490.0 454.7,1488.0 456.9,1485.8 459.0,1483.7 461.2,1481.5 463.4,1479.3 465.6,1477.0 467.8,1474.7 470.0,1472.4 472.2,1470.0 474.4,1467.6 476.6,1465.1 478.8,1462.7 481.0,1460.1 483.1,1457.5 485.3,1454.9 487.5,1452.3 489.7,1449.6 491.9,1446.8 494.1,1444.1 496.3,1441.2 498.5,1438.4 500.7,1435.5 502.9,1432.6 505.0,1429.6 507.2,1426.6 509.4,1423.5 511.6,1420.5 513.8,1417.3 516.0,1414.2 518.2,1411.0 520.4,1407.8 522.6,1404.5 524.8,1401.2 526.9,1397.9 529.1,1394.5 531.3,1391.1 533.5,1387.7 535.7,1384.2 537.9,1380.8 540.1,1377.2 542.3,1373.7 544.5,1370.1 546.7,1366.5 548.8,1362.8 551.0,1359.2 553.2,1355.5 555.4,1351.7 557.6,1348.0 559.8,1344.2 562.0,1340.4 564.2,1336.5 566.4,1332.6 568.6,1328.8 570.7,1324.8 572.9,1320.9 575.1,1316.9 577.3,1312.9 579.5,1308.9 581.7,1304.9 583.9,1300.8 586.1,1296.7 588.3,1292.6 590.5,1288.5 592.7,1284.3 594.8,1280.1 597.0,1275.9 599.2,1271.7 601.4,1267.5 603.6,1263.2 605.8,1258.9 608.0,1254.6 610.2,1250.3 612.4,1246.0 614.6,1241.7 616.7,1237.3 618.9,1232.9 621.1,1228.5 623.3,1224.1 625.5,1219.7 627.7,1215.3 629.9,1210.9 632.1,1206.4 634.3,1201.9 636.5,1197.5 638.6,1193.0 640.8,1188.5 643.0,1184.0 645.2,1179.5 647.4,1175.0 649.6,1170.5 651.8,1166.0 654.0,1161.4 656.2,1156.9 658.4,1152.4 660.5,1147.8 662.7,1143.3 664.9,1138.7 667.1,1134.2 669.3,1129.7 671.5,1125.1 673.7,1120.6 675.9,1116.0 678.1,1111.5 680.3,1107.0 682.4,1102.4 684.6,1097.9 686.8,1093.4 689.0,1088.9 691.2,1084.3 693.4,1079.8 695.6,1075.3 697.8,1070.8 700.0,1066.3 702.2,1061.9 704.4,1057.4 706.5,1052.9 708.7,1048.5 710.9,1044.1 713.1,1039.6 715.3,1035.2 717.5,1030.8 719.7,1026.4 721.9,1022.1 724.1,1017.7 726.3,1013.4 728.4,1009.1 730.6,1004.8 732.8,1000.5 735.0,996.2 737.2,991.9 739.4,987.7 741.6,983.5 743.8,979.3 746.0,975.1 748.2,971.0 750.3,966.9 752.5,962.8 754.7,958.7 756.9,954.6 759.1,950.6 761.3,946.6 763.5,942.6 765.7,938.7 767.9,934.8 770.1,930.9 772.2,927.1 774.4,923.2 776.6,919.4 778.8,915.7 781.0,912.0 783.2,908.3 785.4,904.6 787.6,901.0 789.8,897.5 792.0,893.9 794.2,890.4 796.3,887.0 798.5,883.5 800.7,880.2 802.9,876.8 805.1,873.5 807.3,870.3 809.5,867.1 811.7,863.9 813.9,860.8 816.1,857.7 818.2,854.7 820.4,851.7 822.6,848.8 824.8,845.9 827.0,843.1 829.2,840.3 831.4,837.6 833.6,834.9 835.8,832.3 838.0,829.8 840.1,827.3 842.3,824.8 844.5,822.4 846.7,820.1 848.9,817.8 851.1,815.6 853.3,813.4 855.5,811.3 857.7,809.3 859.9,807.3 862.0,805.4 864.2,803.6 866.4,801.8 868.6,800.1 870.8,798.4 873.0,796.8 875.2,795.3 877.4,793.9 879.6,792.5 881.8,791.2 883.9,789.9 886.1,788.8 888.3,787.7 890.5,786.7 892.7,785.7 894.9,784.8 897.1,784.0 899.3,783.3 901.5,782.7 903.7,782.1 905.9,781.6 908.0,781.2 910.2,780.9 912.4,780.6 914.6,780.5 916.8,780.4 919.0,780.4 921.2,780.5 923.4,780.6 925.6,780.9 927.8,781.2 929.9,781.6 932.1,782.1 934.3,782.7 936.5,783.4 938.7,784.2 940.9,785.0 943.1,785.9 945.3,786.9 947.5,787.9 949.7,789.1 951.8,790.3 954.0,791.6 956.2,792.9 958.4,794.3 960.6,795.8 962.8,797.4 965.0,799.0 967.2,800.7 969.4,802.5 971.6,804.3 973.7,806.2 975.9,808.1 978.1,810.1 980.3,812.2 982.5,814.3 984.7,816.5 986.9,818.7 989.1,821.0 991.3,823.3 993.5,825.7 995.7,828.2 997.8,830.7 1000.0,833.2 1002.2,835.8 1004.4,838.4 1006.6,841.1 1008.8,843.9 1011.0,846.6 1013.2,849.4 1015.4,852.3 1017.6,855.2 1019.7,858.1 1021.9,861.1 1024.1,864.1 1026.3,867.2 1028.5,870.3 1030.7,873.4 1032.9,876.5 1035.1,879.7 1037.3,882.9 1039.5,886.1 1041.6,889.4 1043.8,892.7 1046.0,896.0 1048.2,899.4 1050.4,902.7 1052.6,906.1 1054.8,909.5 1057.0,913.0 1059.2,916.4 1061.4,919.9 1063.5,923.4 1065.7,926.9 1067.9,930.4 1070.1,933.9 1072.3,937.5 1074.5,941.0 1076.7,944.6 1078.9,948.2 1081.1,951.8 1083.3,955.3 1085.4,958.9 1087.6,962.5 1089.8,966.1 1092.0,969.7 1094.2,973.4 1096.4,977.0 1098.6,980.6 1100.8,984.2 1103.0,987.8 1105.2,991.4 1107.4,995.0 1109.5,998.6 1111.7,1002.1 1113.9,1005.7 1116.1,1009.3 1118.3,1012.8 1120.5,1016.4 1122.7,1019.9 1124.9,1023.4 1127.1,1026.9 1129.3,1030.4 1131.4,1033.8 1133.6,1037.3 1135.8,1040.7 1138.0,1044.1 1140.2,1047.5 1142.4,1050.8 1144.6,1054.2 1146.8,1057.5 1149.0,1060.8 1151.2,1064.0 1153.3,1067.3 1155.5,1070.5 1157.7,1073.7 1159.9,1076.8 1162.1,1080.0 1164.3,1083.1 1166.5,1086.2 1168.7,1089.3 1170.9,1092.3 1173.1,1095.3 1175.2,1098.3 1177.4,1101.3 1179.6,1104.3 1181.8,1107.2 1184.0,1110.1 1186.2,1113.0 1188.4,1115.9 1190.6,1118.7 1192.8,1121.6 1195.0,1124.4 1197.1,1127.2 1199.3,1129.9 1201.5,1132.7 1203.7,1135.4 1205.9,1138.1 1208.1,1140.8 1210.3,1143.4 1212.5,1146.1 1214.7,1148.7 1216.9,1151.3 1219.1,1153.9 1221.2,1156.4 1223.4,1159.0 1225.6,1161.5 1227.8,1164.0 1230.0,1166.5 1232.2,1169.0 1234.4,1171.4 1236.6,1173.8 1238.8,1176.2 1241.0,1178.6 1243.1,1181.0 1245.3,1183.4 1247.5,1185.7 1249.7,1188.0 1251.9,1190.3 1254.1,1192.6 1256.3,1194.9 1258.5,1197.1 1260.7,1199.4 1262.9,1201.6 1265.0,1203.8 1267.2,1206.0 1269.4,1208.1 1271.6,1210.3 1273.8,1212.4 1276.0,1214.5 1278.2,1216.6 1280.4,1218.7 1282.6,1220.8 1284.8,1222.9 1286.9,1224.9 1289.1,1226.9 1291.3,1229.0 1293.5,1231.0 1295.7,1232.9 1297.9,1234.9 1300.1,1236.9 1302.3,1238.8 1304.5,1240.7 1306.7,1242.6 1308.9,1244.5 1311.0,1246.4 1313.2,1248.3 1315.4,1250.2 1317.6,1252.0 1319.8,1253.8 1322.0,1255.7 1324.2,1257.5 1326.4,1259.3 1328.6,1261.1 1330.8,1262.8 1332.9,1264.6 1335.1,1266.3 1337.3,1268.1 1339.5,1269.8 1341.7,1271.5 1343.9,1273.2 1346.1,1274.9 1348.3,1276.6 1350.5,1278.2 1352.7,1279.9 1354.8,1281.6 1357.0,1283.2 1359.2,1284.8 1361.4,1286.4 1363.6,1288.0 1365.8,1289.6 1368.0,1291.2 1370.2,1292.8 1372.4,1294.4 1374.6,1295.9 1376.7,1297.5 1378.9,1299.0 1381.1,1300.6 1383.3,1302.1 1385.5,1303.6 1387.7,1305.1 1389.9,1306.6 1392.1,1308.1 1394.3,1309.6 1396.5,1311.1 1398.6,1312.5 1400.8,1314.0 1403.0,1315.4 1405.2,1316.9 1407.4,1318.3 1409.6,1319.8 1411.8,1321.2 1414.0,1322.6 1416.2,1324.0 1418.4,1325.4 1420.6,1326.8 1422.7,1328.2 1424.9,1329.6 1427.1,1331.0 1429.3,1332.4 1431.5,1333.7 1433.7,1335.1 1435.9,1336.5 1438.1,1337.8 1440.3,1339.2 1442.5,1340.5 1444.6,1341.8 1446.8,1343.2 1449.0,1344.5 1451.2,1345.8 1453.4,1347.1 1455.6,1348.4 1457.8,1349.7 1460.0,1351.0 1462.2,1352.3 1464.4,1353.5 1466.5,1354.8 1468.7,1356.1 1470.9,1357.3 1473.1,1358.6 1475.3,1359.8 1477.5,1361.1 1479.7,1362.3 1481.9,1363.5 1484.1,1364.7 1486.3,1365.9 1488.4,1367.2 1490.6,1368.4 1492.8,1369.5 1495.0,1370.7 1497.2,1371.9 1499.4,1373.1 1501.6,1374.2 1503.8,1375.4 1506.0,1376.6 1508.2,1377.7 1510.3,1378.8 1512.5,1380.0 1514.7,1381.1 1516.9,1382.2 1519.1,1383.3 1521.3,1384.5 1523.5,1385.6 1525.7,1386.6 1527.9,1387.7 1530.1,1388.8 1532.3,1389.9 1534.4,1391.0 1536.6,1392.0 1538.8,1393.1 1541.0,1394.1 1543.2,1395.2 1545.4,1396.2 1547.6,1397.2 1549.8,1398.2 1552.0,1399.3 1554.2,1400.3 1556.3,1401.3 1558.5,1402.3 1560.7,1403.3 1562.9,1404.2 1565.1,1405.2 1567.3,1406.2 1569.5,1407.1 1571.7,1408.1 1573.9,1409.0 1576.1,1410.0 1578.2,1410.9 1580.4,1411.8 1582.6,1412.8 1584.8,1413.7 1587.0,1414.6 1589.2,1415.5 1591.4,1416.4 1593.6,1417.3 1595.8,1418.1 1598.0,1419.0 1600.1,1419.9 1602.3,1420.7 1604.5,1421.6 1606.7,1422.4 1608.9,1423.3 1611.1,1424.1 1613.3,1424.9 1615.5,1425.7 1617.7,1426.5 1619.9,1427.3 1622.1,1428.1 1624.2,1428.9 1626.4,1429.7 1628.6,1430.5 1630.8,1431.2 1633.0,1432.0 1635.2,1432.8 1637.4,1433.5 1639.6,1434.2 1641.8,1435.0 1644.0,1435.7 1646.1,1436.4 1648.3,1437.1 1650.5,1437.8 1652.7,1438.5 1654.9,1439.2 1657.1,1439.9 1659.3,1440.6 1661.5,1441.2 1663.7,1441.9 1665.9,1442.6 1668.0,1443.2 1670.2,1443.8 1672.4,1444.5 1674.6,1445.1 1676.8,1445.7 1679.0,1446.3 1681.2,1446.9 1683.4,1447.5 1685.6,1448.1 1687.8,1448.7 1689.9,1449.3 1692.1,1449.8 1694.3,1450.4 1696.5,1451.0 1698.7,1451.5 1700.9,1452.0 1703.1,1452.6 1705.3,1453.1 1707.5,1453.6 1709.7,1454.1 1711.8,1454.6 1714.0,1455.1 1716.2,1455.6 1718.4,1456.1 1720.6,1456.5 1722.8,1457.0 1725.0,1457.5 1727.2,1457.9 1729.4,1458.4 1731.6,1458.8 1733.8,1459.2 1735.9,1459.6 1738.1,1460.0 1740.3,1460.5 1742.5,1460.8 1744.7,1461.2 1746.9,1461.6 1749.1,1462.0 1751.3,1462.4 1753.5,1462.7 1755.7,1463.1 1757.8,1463.4 1760.0,1463.8 1762.2,1464.1 1764.4,1464.4 1766.6,1464.7 1768.8,1465.0 1771.0,1465.3 1773.2,1465.6 1775.4,1465.9 1777.6,1466.2 1779.7,1466.4 1781.9,1466.7 1784.1,1467.0 1786.3,1467.2 1788.5,1467.4 1790.7,1467.7 1792.9,1467.9 1795.1,1468.1 1797.3,1468.3 1799.5,1468.5 1801.6,1468.7 1803.8,1468.9 1806.0,1469.1 1808.2,1469.2 1810.4,1469.4 1812.6,1469.6 1814.8,1469.7 1817.0,1469.8 1819.2,1470.0 1821.4,1470.1 1823.6,1470.2 1825.7,1470.3 1827.9,1470.4 1830.1,1470.5 1832.3,1470.6 1834.5,1470.7 1836.7,1470.8 1838.9,1470.8 1841.1,1470.9 1843.3,1470.9 1845.5,1471.0 1847.6,1471.0 1849.8,1471.1 1852.0,1471.1 1854.2,1471.1 1856.4,1471.1 1858.6,1471.1 1860.8,1471.1 1863.0,1471.1 1865.2,1471.1 1867.4,1471.1 1869.5,1471.0 1871.7,1471.0 1873.9,1471.0 1876.1,1470.9 1878.3,1470.9 1880.5,1470.8 1882.7,1470.7 1884.9,1470.7 1887.1,1470.6 1889.3,1470.5 1891.4,1470.4 1893.6,1470.3 1895.8,1470.2 1898.0,1470.1 1900.2,1470.0 1902.4,1469.9 1904.6,1469.7 1906.8,1469.6 1909.0,1469.4 1911.2,1469.3 1913.3,1469.2 1915.5,1469.0 1917.7,1468.8 1919.9,1468.7 1922.1,1468.5 1924.3,1468.3 1926.5,1468.1 1928.7,1467.9 1930.9,1467.7 1933.1,1467.5 1935.3,1467.3 1937.4,1467.1 1939.6,1466.9 1941.8,1466.7 1944.0,1466.5 1946.2,1466.2 1948.4,1466.0 1950.6,1465.7 1952.8,1465.5 1955.0,1465.2 1957.2,1465.0 1959.3,1464.7 1961.5,1464.4 1963.7,1464.2 1965.9,1463.9 1968.1,1463.6 1970.3,1463.3 1972.5,1463.0 1974.7,1462.7 1976.9,1462.4 1979.1,1462.1 1981.2,1461.8 1983.4,1461.5 1985.6,1461.2 1987.8,1460.9 1990.0,1460.5 1992.2,1460.2 1994.4,1459.9 1996.6,1459.5 1998.8,1459.2 2001.0,1458.8 2003.1,1458.5 2005.3,1458.1 2007.5,1457.8 2009.7,1457.4 2011.9,1457.0 2014.1,1456.6 2016.3,1456.3 2018.5,1455.9 2020.7,1455.5 2022.9,1455.1 2025.0,1454.7 2027.2,1454.3 2029.4,1453.9 2031.6,1453.5 2033.8,1453.1 2036.0,1452.7 2038.2,1452.3 2040.4,1451.9 2042.6,1451.4 2044.8,1451.0 2047.0,1450.6 2049.1,1450.1 2051.3,1449.7 2053.5,1449.3 2055.7,1448.8 2057.9,1448.4 2060.1,1447.9 2062.3,1447.5 2064.5,1447.0 2066.7,1446.6 2068.9,1446.1 2071.0,1445.6 2073.2,1445.2 2075.4,1444.7 2077.6,1444.2 2079.8,1443.8 2082.0,1443.3 2084.2,1442.8 2086.4,1442.3 2088.6,1441.8 2090.8,1441.3 2092.9,1440.8 2095.1,1440.3 2097.3,1439.8 2099.5,1439.3 2101.7,1438.8 2103.9,1438.3 2106.1,1437.8 2108.3,1437.3 2110.5,1436.8 2112.7,1436.3 2114.8,1435.8 2117.0,1435.3 2119.2,1434.7 2121.4,1434.2 2123.6,1433.7 2125.8,1433.2 2128.0,1432.6 2130.2,1432.1 2132.4,1431.6 2134.6,1431.1 2136.8,1430.5 2138.9,1430.0 2141.1,1429.4 2143.3,1428.9 2145.5,1428.4 2147.7,1427.8 2149.9,1427.3 2152.1,1426.7 2154.3,1426.2 2156.5,1425.6 2158.7,1425.1 2160.8,1424.5 2163.0,1424.0 2165.2,1423.4 2167.4,1422.9 2169.6,1422.3 2171.8,1421.7 2174.0,1421.2 2176.2,1420.6 2178.4,1420.0 2180.6,1419.5 2182.7,1418.9 2184.9,1418.4 2187.1,1417.8 2189.3,1417.2 2191.5,1416.7 2193.7,1416.1 2195.9,1415.5 2198.1,1414.9 2200.3,1414.4 2202.5,1413.8 2204.6,1413.2 2206.8,1412.7 2209.0,1412.1 2211.2,1411.5 2213.4,1410.9 2215.6,1410.4 2217.8,1409.8 2220.0,1409.2 2222.2,1408.6 2224.4,1408.0 2226.5,1407.5 2228.7,1406.9 2230.9,1406.3 2233.1,1405.7 2235.3,1405.2 2237.5,1404.6" fill="none" stroke="#0000ff" stroke-width="11.6" stroke-linejoin="round"/>
<polygon points="268.5,1571.2 245.5,1609.2 291.5,1609.2" fill="#0000ff"/>
<polygon points="323.2,1539.2 300.2,1577.2 346.2,1577.2" fill="#0000ff"/>
<polygon points="394.3,1507.2 371.3,1545.2 417.3,1545.2" fill="#0000ff"/>
<polygon points="487.3,1427.2 464.3,1465.2 510.3,1465.2" fill="#0000ff"/>
<polygon points="596.7,1251.3 573.7,1289.3 619.7,1289.3" fill="#0000ff"/>
<polygon points="738.9,963.4 715.9,1001.4 761.9,1001.4" fill="#0000ff"/>
<polygon points="924.8,755.4 901.8,793.4 947.8,793.4" fill="#0000ff"/>
<polygon points="1143.6,1027.4 1120.6,1065.4 1166.6,1065.4" fill="#0000ff"/>
<polygon points="1417.1,1299.3 1394.1,1337.3 1440.1,1337.3" fill="#0000ff"/>
<polygon points="1799.9,1443.2 1776.9,1481.2 1822.9,1481.2" fill="#0000ff"/>
<polygon points="2237.5,1379.3 2214.5,1417.3 2260.5,1417.3" fill="#0000ff"/>
<polyline points="268.5,1612.5 270.7,1612.0 272.9,1611.4 275.1,1610.9 277.3,1610.3 279.5,1609.7 281.6,1609.2 283.8,1608.6 286.0,1608.0 288.2,1607.5 290.4,1606.9 292.6,1606.3 294.8,1605.7 297.0,1605.0 299.2,1604.4 301.4,1603.8 303.5,1603.1 305.7,1602.4 307.9,1601.8 310.1,1601.1 312.3,1600.4 314.5,1599.6 316.7,1598.9 318.9,1598.1 321.1,1597.3 323.3,1596.5 325.4,1595.7 327.6,1594.8 329.8,1594.0 332.0,1593.1 334.2,1592.2 336.4,1591.2 338.6,1590.3 340.8,1589.3 343.0,1588.4 345.2,1587.4 347.3,1586.4 349.5,1585.4 351.7,1584.4 353.9,1583.4 356.1,1582.4 358.3,1581.3 360.5,1580.3 362.7,1579.3 364.9,1578.2 367.1,1577.2 369.2,1576.2 371.4,1575.1 373.6,1574.1 375.8,1573.0 378.0,1572.0 380.2,1571.0 382.4,1570.0 384.6,1568.9 386.8,1567.9 389.0,1566.9 391.2,1565.9 393.3,1565.0 395.5,1564.0 397.7,1563.0 399.9,1562.1 402.1,1561.2 404.3,1560.2 406.5,1559.3 408.7,1558.4 410.9,1557.5 413.1,1556.5 415.2,1555.6 417.4,1554.7 419.6,1553.8 421.8,1552.9 424.0,1551.9 426.2,1551.0 428.4,1550.1 430.6,1549.1 432.8,1548.2 435.0,1547.2 437.1,1546.2 439.3,1545.2 441.5,1544.2 443.7,1543.1 445.9,1542.1 448.1,1541.0 450.3,1539.9 452.5,1538.8 454.7,1537.6 456.9,1536.4 459.0,1535.2 461.2,1534.0 463.4,1532.7 465.6,1531.4 467.8,1530.1 470.0,1528.7 472.2,1527.3 474.4,1525.9 476.6,1524.4 478.8,1522.9 481.0,1521.3 483.1,1519.7 485.3,1518.1 487.5,1516.4 489.7,1514.6 491.9,1512.8 494.1,1511.0 496.3,1509.1 498.5,1507.2 500.7,1505.2 502.9,1503.2 505.0,1501.1 507.2,1499.1 509.4,1496.9 511.6,1494.7 513.8,1492.5 516.0,1490.3 518.2,1488.0 520.4,1485.7 522.6,1483.3 524.8,1480.9 526.9,1478.5 529.1,1476.0 531.3,1473.6 533.5,1471.0 535.7,1468.5 537.9,1465.9 540.1,1463.3 542.3,1460.7 544.5,1458.0 546.7,1455.3 548.8,1452.6 551.0,1449.8 553.2,1447.1 555.4,1444.3 557.6,1441.5 559.8,1438.7 562.0,1435.8 564.2,1432.9 566.4,1430.0 568.6,1427.1 570.7,1424.2 572.9,1421.3 575.1,1418.3 577.3,1415.3 579.5,1412.4 581.7,1409.4 583.9,1406.4 586.1,1403.3 588.3,1400.3 590.5,1397.3 592.7,1394.2 594.8,1391.1 597.0,1388.1 599.2,1385.0 601.4,1381.9 603.6,1378.8 605.8,1375.7 608.0,1372.6 610.2,1369.5 612.4,1366.4 614.6,1363.3 616.7,1360.2 618.9,1357.1 621.1,1353.9 623.3,1350.8 625.5,1347.6 627.7,1344.5 629.9,1341.3 632.1,1338.2 634.3,1335.0 636.5,1331.8 638.6,1328.7 640.8,1325.5 643.0,1322.3 645.2,1319.1 647.4,1315.9 649.6,1312.7 651.8,1309.5 654.0,1306.3 656.2,1303.1 658.4,1299.9 660.5,1296.7 662.7,1293.5 664.9,1290.3 667.1,1287.0 669.3,1283.8 671.5,1280.6 673.7,1277.4 675.9,1274.1 678.1,1270.9 680.3,1267.7 682.4,1264.4 684.6,1261.2 686.8,1257.9 689.0,1254.7 691.2,1251.5 693.4,1248.2 695.6,1245.0 697.8,1241.7 700.0,1238.5 702.2,1235.2 704.4,1231.9 706.5,1228.7 708.7,1225.4 710.9,1222.2 713.1,1218.9 715.3,1215.7 717.5,1212.4 719.7,1209.2 721.9,1205.9 724.1,1202.7 726.3,1199.4 728.4,1196.1 730.6,1192.9 732.8,1189.6 735.0,1186.4 737.2,1183.1 739.4,1179.9 741.6,1176.6 743.8,1173.4 746.0,1170.1 748.2,1166.9 750.3,1163.7 752.5,1160.4 754.7,1157.2 756.9,1154.0 759.1,1150.8 761.3,1147.6 763.5,1144.4 765.7,1141.2 767.9,1138.0 770.1,1134.9 772.2,1131.7 774.4,1128.6 776.6,1125.5 778.8,1122.4 781.0,1119.3 783.2,1116.2 785.4,1113.1 787.6,1110.1 789.8,1107.1 792.0,1104.1 794.2,1101.1 796.3,1098.1 798.5,1095.2 800.7,1092.3 802.9,1089.4 805.1,1086.5 807.3,1083.7 809.5,1080.8 811.7,1078.0 813.9,1075.3 816.1,1072.5 818.2,1069.8 820.4,1067.2 822.6,1064.5 824.8,1061.9 827.0,1059.3 829.2,1056.7 831.4,1054.2 833.6,1051.7 835.8,1049.3 838.0,1046.9 840.1,1044.5 842.3,1042.2 844.5,1039.9 846.7,1037.6 848.9,1035.4 851.1,1033.2 853.3,1031.0 855.5,1028.9 857.7,1026.9 859.9,1024.9 862.0,1022.9 864.2,1021.0 866.4,1019.1 868.6,1017.3 870.8,1015.5 873.0,1013.7 875.2,1012.1 877.4,1010.4 879.6,1008.8 881.8,1007.3 883.9,1005.8 886.1,1004.4 888.3,1003.0 890.5,1001.7 892.7,1000.4 894.9,999.2 897.1,998.1 899.3,997.0 901.5,995.9 903.7,994.9 905.9,994.0 908.0,993.2 910.2,992.4 912.4,991.6 914.6,991.0 916.8,990.4 919.0,989.8 921.2,989.4 923.4,989.0 925.6,988.6 927.8,988.3 929.9,988.1 932.1,988.0 934.3,987.9 936.5,987.9 938.7,987.9 940.9,988.1 943.1,988.2 945.3,988.5 947.5,988.8 949.7,989.1 951.8,989.5 954.0,990.0 956.2,990.5 958.4,991.1 960.6,991.8 962.8,992.5 965.0,993.2 967.2,994.0 969.4,994.9 971.6,995.8 973.7,996.8 975.9,997.8 978.1,998.8 980.3,1000.0 982.5,1001.1 984.7,1002.3 986.9,1003.6 989.1,1004.9 991.3,1006.2 993.5,1007.6 995.7,1009.0 997.8,1010.5 1000.0,1012.0 1002.2,1013.6 1004.4,1015.2 1006.6,1016.8 1008.8,1018.5 1011.0,1020.2 1013.2,1021.9 1015.4,1023.7 1017.6,1025.6 1019.7,1027.4 1021.9,1029.3 1024.1,1031.2 1026.3,1033.2 1028.5,1035.2 1030.7,1037.2 1032.9,1039.2 1035.1,1041.3 1037.3,1043.4 1039.5,1045.6 1041.6,1047.7 1043.8,1049.9 1046.0,1052.1 1048.2,1054.4 1050.4,1056.6 1052.6,1058.9 1054.8,1061.2 1057.0,1063.6 1059.2,1065.9 1061.4,1068.3 1063.5,1070.7 1065.7,1073.1 1067.9,1075.5 1070.1,1078.0 1072.3,1080.4 1074.5,1082.9 1076.7,1085.4 1078.9,1087.9 1081.1,1090.4 1083.3,1093.0 1085.4,1095.5 1087.6,1098.1 1089.8,1100.6 1092.0,1103.2 1094.2,1105.8 1096.4,1108.4 1098.6,1111.0 1100.8,1113.6 1103.0,1116.2 1105.2,1118.8 1107.4,1121.4 1109.5,1124.0 1111.7,1126.7 1113.9,1129.3 1116.1,1131.9 1118.3,1134.6 1120.5,1137.2 1122.7,1139.8 1124.9,1142.4 1127.1,1145.0 1129.3,1147.7 1131.4,1150.3 1133.6,1152.9 1135.8,1155.5 1138.0,1158.1 1140.2,1160.7 1142.4,1163.2 1144.6,1165.8 1146.8,1168.4 1149.0,1170.9 1151.2,1173.4 1153.3,1176.0 1155.5,1178.5 1157.7,1181.0 1159.9,1183.5 1162.1,1186.0 1164.3,1188.5 1166.5,1190.9 1168.7,1193.4 1170.9,1195.9 1173.1,1198.3 1175.2,1200.7 1177.4,1203.2 1179.6,1205.6 1181.8,1208.0 1184.0,1210.4 1186.2,1212.7 1188.4,1215.1 1190.6,1217.5 1192.8,1219.8 1195.0,1222.2 1197.1,1224.5 1199.3,1226.8 1201.5,1229.1 1203.7,1231.4 1205.9,1233.7 1208.1,1236.0 1210.3,1238.3 1212.5,1240.5 1214.7,1242.8 1216.9,1245.0 1219.1,1247.3 1221.2,1249.5 1223.4,1251.7 1225.6,1253.9 1227.8,1256.1 1230.0,1258.3 1232.2,1260.4 1234.4,1262.6 1236.6,1264.7 1238.8,1266.9 1241.0,1269.0 1243.1,1271.1 1245.3,1273.2 1247.5,1275.3 1249.7,1277.4 1251.9,1279.5 1254.1,1281.6 1256.3,1283.6 1258.5,1285.7 1260.7,1287.7 1262.9,1289.7 1265.0,1291.7 1267.2,1293.7 1269.4,1295.7 1271.6,1297.7 1273.8,1299.7 1276.0,1301.6 1278.2,1303.6 1280.4,1305.5 1282.6,1307.5 1284.8,1309.4 1286.9,1311.3 1289.1,1313.2 1291.3,1315.1 1293.5,1316.9 1295.7,1318.8 1297.9,1320.6 1300.1,1322.5 1302.3,1324.3 1304.5,1326.1 1306.7,1327.9 1308.9,1329.7 1311.0,1331.5 1313.2,1333.3 1315.4,1335.1 1317.6,1336.8 1319.8,1338.6 1322.0,1340.3 1324.2,1342.0 1326.4,1343.7 1328.6,1345.4 1330.8,1347.1 1332.9,1348.8 1335.1,1350.5 1337.3,1352.1 1339.5,1353.7 1341.7,1355.4 1343.9,1357.0 1346.1,1358.6 1348.3,1360.2 1350.5,1361.8 1352.7,1363.4 1354.8,1364.9 1357.0,1366.5 1359.2,1368.0 1361.4,1369.6 1363.6,1371.1 1365.8,1372.6 1368.0,1374.1 1370.2,1375.6 1372.4,1377.0 1374.6,1378.5 1376.7,1379.9 1378.9,1381.4 1381.1,1382.8 1383.3,1384.2 1385.5,1385.6 1387.7,1387.0 1389.9,1388.4 1392.1,1389.8 1394.3,1391.1 1396.5,1392.5 1398.6,1393.8 1400.8,1395.1 1403.0,1396.5 1405.2,1397.8 1407.4,1399.0 1409.6,1400.3 1411.8,1401.6 1414.0,1402.8 1416.2,1404.1 1418.4,1405.3 1420.6,1406.5 1422.7,1407.7 1424.9,1408.9 1427.1,1410.1 1429.3,1411.3 1431.5,1412.4 1433.7,1413.6 1435.9,1414.7 1438.1,1415.8 1440.3,1417.0 1442.5,1418.1 1444.6,1419.2 1446.8,1420.2 1449.0,1421.3 1451.2,1422.4 1453.4,1423.4 1455.6,1424.5 1457.8,1425.5 1460.0,1426.5 1462.2,1427.5 1464.4,1428.5 1466.5,1429.5 1468.7,1430.5 1470.9,1431.5 1473.1,1432.4 1475.3,1433.4 1477.5,1434.3 1479.7,1435.3 1481.9,1436.2 1484.1,1437.1 1486.3,1438.0 1488.4,1438.9 1490.6,1439.8 1492.8,1440.7 1495.0,1441.5 1497.2,1442.4 1499.4,1443.2 1501.6,1444.1 1503.8,1444.9 1506.0,1445.7 1508.2,1446.6 1510.3,1447.4 1512.5,1448.2 1514.7,1449.0 1516.9,1449.7 1519.1,1450.5 1521.3,1451.3 1523.5,1452.1 1525.7,1452.8 1527.9,1453.6 1530.1,1454.3 1532.3,1455.0 1534.4,1455.8 1536.6,1456.5 1538.8,1457.2 1541.0,1457.9 1543.2,1458.6 1545.4,1459.3 1547.6,1460.0 1549.8,1460.6 1552.0,1461.3 1554.2,1462.0 1556.3,1462.6 1558.5,1463.3 1560.7,1463.9 1562.9,1464.6 1565.1,1465.2 1567.3,1465.8 1569.5,1466.5 1571.7,1467.1 1573.9,1467.7 1576.1,1468.3 1578.2,1468.9 1580.4,1469.5 1582.6,1470.1 1584.8,1470.6 1587.0,1471.2 1589.2,1471.8 1591.4,1472.4 1593.6,1472.9 1595.8,1473.5 1598.0,1474.0 1600.1,1474.6 1602.3,1475.1 1604.5,1475.7 1606.7,1476.2 1608.9,1476.7 1611.1,1477.3 1613.3,1477.8 1615.5,1478.3 1617.7,1478.8 1619.9,1479.3 1622.1,1479.8 1624.2,1480.3 1626.4,1480.8 1628.6,1481.3 1630.8,1481.8 1633.0,1482.3 1635.2,1482.8 1637.4,1483.3 1639.6,1483.8 1641.8,1484.2 1644.0,1484.7 1646.1,1485.2 1648.3,1485.7 1650.5,1486.1 1652.7,1486.6 1654.9,1487.1 1657.1,1487.5 1659.3,1488.0 1661.5,1488.4 1663.7,1488.9 1665.9,1489.3 1668.0,1489.8 1670.2,1490.2 1672.4,1490.7 1674.6,1491.1 1676.8,1491.6 1679.0,1492.0 1681.2,1492.4 1683.4,1492.9 1685.6,1493.3 1687.8,1493.7 1689.9,1494.2 1692.1,1494.6 1694.3,1495.0 1696.5,1495.5 1698.7,1495.9 1700.9,1496.3 1703.1,1496.8 1705.3,1497.2 1707.5,1497.6 1709.7,1498.0 1711.8,1498.5 1714.0,1498.9 1716.2,1499.3 1718.4,1499.8 1720.6,1500.2 1722.8,1500.6 1725.0,1501.0 1727.2,1501.5 1729.4,1501.9 1731.6,1502.3 1733.8,1502.8 1735.9,1503.2 1738.1,1503.6 1740.3,1504.1 1742.5,1504.5 1744.7,1504.9 1746.9,1505.4 1749.1,1505.8 1751.3,1506.2 1753.5,1506.7 1755.7,1507.1 1757.8,1507.6 1760.0,1508.0 1762.2,1508.5 1764.4,1508.9 1766.6,1509.4 1768.8,1509.8 1771.0,1510.3 1773.2,1510.7 1775.4,1511.2 1777.6,1511.7 1779.7,1512.1 1781.9,1512.6 1784.1,1513.1 1786.3,1513.5 1788.5,1514.0 1790.7,1514.5 1792.9,1515.0 1795.1,1515.5 1797.3,1515.9 1799.5,1516.4 1801.6,1516.9 1803.8,1517.4 1806.0,1517.9 1808.2,1518.4 1810.4,1519.0 1812.6,1519.5 1814.8,1520.0 1817.0,1520.5 1819.2,1521.0 1821.4,1521.5 1823.6,1522.1 1825.7,1522.6 1827.9,1523.1 1830.1,1523.7 1832.3,1524.2 1834.5,1524.8 1836.7,1525.3 1838.9,1525.9 1841.1,1526.4 1843.3,1527.0 1845.5,1527.5 1847.6,1528.1 1849.8,1528.7 1852.0,1529.2 1854.2,1529.8 1856.4,1530.4 1858.6,1531.0 1860.8,1531.5 1863.0,1532.1 1865.2,1532.7 1867.4,1533.3 1869.5,1533.9 1871.7,1534.5 1873.9,1535.1 1876.1,1535.7 1878.3,1536.3 1880.5,1536.9 1882.7,1537.5 1884.9,1538.1 1887.1,1538.7 1889.3,1539.3 1891.4,1540.0 1893.6,1540.6 1895.8,1541.2 1898.0,1541.8 1900.2,1542.5 1902.4,1543.1 1904.6,1543.7 1906.8,1544.4 1909.0,1545.0 1911.2,1545.7 1913.3,1546.3 1915.5,1547.0 1917.7,1547.6 1919.9,1548.3 1922.1,1548.9 1924.3,1549.6 1926.5,1550.2 1928.7,1550.9 1930.9,1551.6 1933.1,1552.2 1935.3,1552.9 1937.4,1553.6 1939.6,1554.3 1941.8,1554.9 1944.0,1555.6 1946.2,1556.3 1948.4,1557.0 1950.6,1557.7 1952.8,1558.4 1955.0,1559.0 1957.2,1559.7 1959.3,1560.4 1961.5,1561.1 1963.7,1561.8 1965.9,1562.5 1968.1,1563.2 1970.3,1563.9 1972.5,1564.6 1974.7,1565.4 1976.9,1566.1 1979.1,1566.8 1981.2,1567.5 1983.4,1568.2 1985.6,1568.9 1987.8,1569.7 1990.0,1570.4 1992.2,1571.1 1994.4,1571.8 1996.6,1572.6 1998.8,1573.3 2001.0,1574.0 2003.1,1574.8 2005.3,1575.5 2007.5,1576.2 2009.7,1577.0 2011.9,1577.7 2014.1,1578.5 2016.3,1579.2 2018.5,1580.0 2020.7,1580.7 2022.9,1581.5 2025.0,1582.2 2027.2,1583.0 2029.4,1583.7 2031.6,1584.5 2033.8,1585.3 2036.0,1586.0 2038.2,1586.8 2040.4,1587.5 2042.6,1588.3 2044.8,1589.1 2047.0,1589.8 2049.1,1590.6 2051.3,1591.4 2053.5,1592.2 2055.7,1592.9 2057.9,1593.7 2060.1,1594.5 2062.3,1595.3 2064.5,1596.0 2066.7,1596.8 2068.9,1597.6 2071.0,1598.4 2073.2,1599.2 2075.4,1600.0 2077.6,1600.7 2079.8,1601.5 2082.0,1602.3 2084.2,1603.1 2086.4,1603.9 2088.6,1604.7 2090.8,1605.5 2092.9,1606.3 2095.1,1607.1 2097.3,1607.9 2099.5,1608.7 2101.7,1609.5 2103.9,1610.3 2106.1,1611.1 2108.3,1611.9 2110.5,1612.7 2112.7,1613.5 2114.8,1614.3 2117.0,1615.1 2119.2,1615.9 2121.4,1616.7 2123.6,1617.6 2125.8,1618.4 2128.0,1619.2 2130.2,1620.0 2132.4,1620.8 2134.6,1621.6 2136.8,1622.4 2138.9,1623.2 2141.1,1624.1 2143.3,1624.9 2145.5,1625.7 2147.7,1626.5 2149.9,1627.3 2152.1,1628.2 2154.3,1629.0 2156.5,1629.8 2158.7,1630.6 2160.8,1631.4 2163.0,1632.3 2165.2,1633.1 2167.4,1633.9 2169.6,1634.7 2171.8,1635.6 2174.0,1636.4 2176.2,1637.2 2178.4,1638.1 2180.6,1638.9 2182.7,1639.7 2184.9,1640.5 2187.1,1641.4 2189.3,1642.2 2191.5,1643.0 2193.7,1643.9 2195.9,1644.7 2198.1,1645.5 2200.3,1646.3 2202.5,1647.2 2204.6,1648.0 2206.8,1648.8 2209.0,1649.7 2211.2,1650.5 2213.4,1651.3 2215.6,1652.2 2217.8,1653.0 2220.0,1653.8 2222.2,1654.7 2224.4,1655.5 2226.5,1656.3 2228.7,1657.2 2230.9,1658.0 2233.1,1658.8 2235.3,1659.7 2237.5,1660.5" fill="none" stroke="#ff00ff" stroke-width="11.6" stroke-linejoin="round"/>
<polygon points="268.5,1639.2 246.0,1599.2 291.0,1599.2" fill="#ff00ff"/>
<polygon points="323.2,1623.2 300.7,1583.2 345.7,1583.2" fill="#ff00ff"/>
<polygon points="394.3,1591.2 371.8,1551.2 416.8,1551.2" fill="#ff00ff"/>
<polygon points="487.3,1543.2 464.8,1503.2 509.8,1503.2" fill="#ff00ff"/>
<polygon points="596.7,1415.3 574.2,1375.3 619.2,1375.3" fill="#ff00ff"/>
<polygon points="738.9,1207.3 716.4,1167.3 761.4,1167.3" fill="#ff00ff"/>
<polygon points="924.8,1015.4 902.3,975.4 947.3,975.4" fill="#ff00ff"/>
<polygon points="1143.6,1191.3 1121.1,1151.3 1166.1,1151.3" fill="#ff00ff"/>
<polygon points="1417.1,1431.3 1394.6,1391.3 1439.6,1391.3" fill="#ff00ff"/>
<polygon points="1799.9,1543.2 1777.4,1503.2 1822.4,1503.2" fill="#ff00ff"/>
<polygon points="2237.5,1687.2 2215.0,1647.2 2260.0,1647.2" fill="#ff00ff"/>
<polyline points="268.5,1628.5 270.7,1628.6 272.9,1628.8 275.1,1628.9 277.3,1629.0 279.5,1629.1 281.6,1629.3 283.8,1629.4 286.0,1629.5 288.2,1629.5 290.4,1629.6 292.6,1629.7 294.8,1629.7 297.0,1629.8 299.2,1629.8 301.4,1629.8 303.5,1629.8 305.7,1629.7 307.9,1629.7 310.1,1629.6 312.3,1629.5 314.5,1629.3 316.7,1629.2 318.9,1629.0 321.1,1628.8 323.3,1628.5 325.4,1628.2 327.6,1627.9 329.8,1627.6 332.0,1627.2 334.2,1626.8 336.4,1626.4 338.6,1626.0 340.8,1625.5 343.0,1625.0 345.2,1624.6 347.3,1624.0 349.5,1623.5 351.7,1623.0 353.9,1622.4 356.1,1621.9 358.3,1621.3 360.5,1620.8 362.7,1620.2 364.9,1619.6 367.1,1619.1 369.2,1618.5 371.4,1617.9 373.6,1617.4 375.8,1616.8 378.0,1616.2 380.2,1615.7 382.4,1615.2 384.6,1614.6 386.8,1614.1 389.0,1613.6 391.2,1613.2 393.3,1612.7 395.5,1612.3 397.7,1611.9 399.9,1611.5 402.1,1611.1 404.3,1610.7 406.5,1610.4 408.7,1610.0 410.9,1609.7 413.1,1609.4 415.2,1609.1 417.4,1608.8 419.6,1608.5 421.8,1608.3 424.0,1608.0 426.2,1607.7 428.4,1607.5 430.6,1607.2 432.8,1606.9 435.0,1606.7 437.1,1606.4 439.3,1606.1 441.5,1605.8 443.7,1605.5 445.9,1605.2 448.1,1604.9 450.3,1604.6 452.5,1604.3 454.7,1604.0 456.9,1603.6 459.0,1603.2 461.2,1602.9 463.4,1602.5 465.6,1602.0 467.8,1601.6 470.0,1601.1 472.2,1600.6 474.4,1600.1 476.6,1599.6 478.8,1599.0 481.0,1598.4 483.1,1597.8 485.3,1597.1 487.5,1596.4 489.7,1595.7 491.9,1595.0 494.1,1594.2 496.3,1593.4 498.5,1592.5 500.7,1591.6 502.9,1590.7 505.0,1589.8 507.2,1588.8 509.4,1587.8 511.6,1586.8 513.8,1585.8 516.0,1584.7 518.2,1583.6 520.4,1582.5 522.6,1581.3 524.8,1580.2 526.9,1579.0 529.1,1577.7 531.3,1576.5 533.5,1575.2 535.7,1574.0 537.9,1572.7 540.1,1571.3 542.3,1570.0 544.5,1568.7 546.7,1567.3 548.8,1565.9 551.0,1564.5 553.2,1563.1 555.4,1561.6 557.6,1560.2 559.8,1558.7 562.0,1557.2 564.2,1555.7 566.4,1554.2 568.6,1552.7 570.7,1551.2 572.9,1549.7 575.1,1548.1 577.3,1546.6 579.5,1545.0 581.7,1543.4 583.9,1541.9 586.1,1540.3 588.3,1538.7 590.5,1537.1 592.7,1535.5 594.8,1533.9 597.0,1532.3 599.2,1530.7 601.4,1529.1 603.6,1527.4 605.8,1525.8 608.0,1524.2 610.2,1522.6 612.4,1520.9 614.6,1519.3 616.7,1517.7 618.9,1516.0 621.1,1514.4 623.3,1512.8 625.5,1511.1 627.7,1509.5 629.9,1507.8 632.1,1506.2 634.3,1504.5 636.5,1502.8 638.6,1501.2 640.8,1499.5 643.0,1497.8 645.2,1496.1 647.4,1494.5 649.6,1492.8 651.8,1491.1 654.0,1489.4 656.2,1487.7 658.4,1486.0 660.5,1484.3 662.7,1482.6 664.9,1480.9 667.1,1479.2 669.3,1477.4 671.5,1475.7 673.7,1474.0 675.9,1472.3 678.1,1470.5 680.3,1468.8 682.4,1467.0 684.6,1465.3 686.8,1463.5 689.0,1461.8 691.2,1460.0 693.4,1458.3 695.6,1456.5 697.8,1454.7 700.0,1452.9 702.2,1451.2 704.4,1449.4 706.5,1447.6 708.7,1445.8 710.9,1444.0 713.1,1442.2 715.3,1440.4 717.5,1438.5 719.7,1436.7 721.9,1434.9 724.1,1433.1 726.3,1431.2 728.4,1429.4 730.6,1427.6 732.8,1425.7 735.0,1423.9 737.2,1422.0 739.4,1420.1 741.6,1418.3 743.8,1416.4 746.0,1414.5 748.2,1412.6 750.3,1410.8 752.5,1408.9 754.7,1407.0 756.9,1405.1 759.1,1403.2 761.3,1401.3 763.5,1399.4 765.7,1397.5 767.9,1395.6 770.1,1393.7 772.2,1391.8 774.4,1389.9 776.6,1388.0 778.8,1386.1 781.0,1384.2 783.2,1382.3 785.4,1380.4 787.6,1378.5 789.8,1376.6 792.0,1374.7 794.2,1372.8 796.3,1370.9 798.5,1369.0 800.7,1367.1 802.9,1365.2 805.1,1363.4 807.3,1361.5 809.5,1359.6 811.7,1357.8 813.9,1355.9 816.1,1354.1 818.2,1352.2 820.4,1350.4 822.6,1348.6 824.8,1346.8 827.0,1344.9 829.2,1343.1 831.4,1341.3 833.6,1339.5 835.8,1337.8 838.0,1336.0 840.1,1334.2 842.3,1332.5 844.5,1330.7 846.7,1329.0 848.9,1327.3 851.1,1325.6 853.3,1323.9 855.5,1322.2 857.7,1320.5 859.9,1318.9 862.0,1317.2 864.2,1315.6 866.4,1313.9 868.6,1312.3 870.8,1310.7 873.0,1309.2 875.2,1307.6 877.4,1306.0 879.6,1304.5 881.8,1303.0 883.9,1301.5 886.1,1300.0 888.3,1298.5 890.5,1297.0 892.7,1295.6 894.9,1294.2 897.1,1292.8 899.3,1291.4 901.5,1290.0 903.7,1288.7 905.9,1287.3 908.0,1286.0 910.2,1284.7 912.4,1283.5 914.6,1282.2 916.8,1281.0 919.0,1279.8 921.2,1278.6 923.4,1277.4 925.6,1276.2 927.8,1275.1 929.9,1274.0 932.1,1272.9 934.3,1271.9 936.5,1270.8 938.7,1269.8 940.9,1268.8 943.1,1267.8 945.3,1266.9 947.5,1266.0 949.7,1265.1 951.8,1264.2 954.0,1263.3 956.2,1262.5 958.4,1261.6 960.6,1260.8 962.8,1260.0 965.0,1259.3 967.2,1258.5 969.4,1257.8 971.6,1257.1 973.7,1256.4 975.9,1255.8 978.1,1255.1 980.3,1254.5 982.5,1253.9 984.7,1253.3 986.9,1252.8 989.1,1252.2 991.3,1251.7 993.5,1251.2 995.7,1250.7 997.8,1250.3 1000.0,1249.8 1002.2,1249.4 1004.4,1249.0 1006.6,1248.6 1008.8,1248.3 1011.0,1247.9 1013.2,1247.6 1015.4,1247.3 1017.6,1247.0 1019.7,1246.8 1021.9,1246.5 1024.1,1246.3 1026.3,1246.1 1028.5,1245.9 1030.7,1245.7 1032.9,1245.6 1035.1,1245.4 1037.3,1245.3 1039.5,1245.2 1041.6,1245.2 1043.8,1245.1 1046.0,1245.0 1048.2,1245.0 1050.4,1245.0 1052.6,1245.0 1054.8,1245.1 1057.0,1245.1 1059.2,1245.2 1061.4,1245.3 1063.5,1245.4 1065.7,1245.5 1067.9,1245.6 1070.1,1245.8 1072.3,1245.9 1074.5,1246.1 1076.7,1246.3 1078.9,1246.6 1081.1,1246.8 1083.3,1247.1 1085.4,1247.3 1087.6,1247.6 1089.8,1247.9 1092.0,1248.3 1094.2,1248.6 1096.4,1249.0 1098.6,1249.3 1100.8,1249.7 1103.0,1250.1 1105.2,1250.6 1107.4,1251.0 1109.5,1251.5 1111.7,1251.9 1113.9,1252.4 1116.1,1252.9 1118.3,1253.5 1120.5,1254.0 1122.7,1254.6 1124.9,1255.1 1127.1,1255.7 1129.3,1256.3 1131.4,1256.9 1133.6,1257.6 1135.8,1258.2 1138.0,1258.9 1140.2,1259.5 1142.4,1260.2 1144.6,1260.9 1146.8,1261.7 1149.0,1262.4 1151.2,1263.2 1153.3,1263.9 1155.5,1264.7 1157.7,1265.5 1159.9,1266.3 1162.1,1267.1 1164.3,1268.0 1166.5,1268.8 1168.7,1269.7 1170.9,1270.6 1173.1,1271.5 1175.2,1272.4 1177.4,1273.3 1179.6,1274.2 1181.8,1275.1 1184.0,1276.1 1186.2,1277.0 1188.4,1278.0 1190.6,1279.0 1192.8,1280.0 1195.0,1281.0 1197.1,1282.0 1199.3,1283.0 1201.5,1284.1 1203.7,1285.1 1205.9,1286.2 1208.1,1287.2 1210.3,1288.3 1212.5,1289.4 1214.7,1290.5 1216.9,1291.6 1219.1,1292.7 1221.2,1293.8 1223.4,1295.0 1225.6,1296.1 1227.8,1297.2 1230.0,1298.4 1232.2,1299.5 1234.4,1300.7 1236.6,1301.9 1238.8,1303.1 1241.0,1304.3 1243.1,1305.4 1245.3,1306.6 1247.5,1307.9 1249.7,1309.1 1251.9,1310.3 1254.1,1311.5 1256.3,1312.7 1258.5,1314.0 1260.7,1315.2 1262.9,1316.5 1265.0,1317.7 1267.2,1319.0 1269.4,1320.2 1271.6,1321.5 1273.8,1322.7 1276.0,1324.0 1278.2,1325.3 1280.4,1326.6 1282.6,1327.8 1284.8,1329.1 1286.9,1330.4 1289.1,1331.7 1291.3,1333.0 1293.5,1334.3 1295.7,1335.6 1297.9,1336.9 1300.1,1338.2 1302.3,1339.5 1304.5,1340.8 1306.7,1342.1 1308.9,1343.4 1311.0,1344.7 1313.2,1346.0 1315.4,1347.3 1317.6,1348.6 1319.8,1349.9 1322.0,1351.2 1324.2,1352.5 1326.4,1353.8 1328.6,1355.1 1330.8,1356.4 1332.9,1357.7 1335.1,1359.0 1337.3,1360.3 1339.5,1361.6 1341.7,1362.9 1343.9,1364.1 1346.1,1365.4 1348.3,1366.7 1350.5,1368.0 1352.7,1369.3 1354.8,1370.5 1357.0,1371.8 1359.2,1373.1 1361.4,1374.3 1363.6,1375.6 1365.8,1376.9 1368.0,1378.1 1370.2,1379.4 1372.4,1380.6 1374.6,1381.8 1376.7,1383.1 1378.9,1384.3 1381.1,1385.5 1383.3,1386.7 1385.5,1387.9 1387.7,1389.1 1389.9,1390.3 1392.1,1391.5 1394.3,1392.7 1396.5,1393.9 1398.6,1395.1 1400.8,1396.2 1403.0,1397.4 1405.2,1398.5 1407.4,1399.7 1409.6,1400.8 1411.8,1401.9 1414.0,1403.0 1416.2,1404.1 1418.4,1405.2 1420.6,1406.3 1422.7,1407.4 1424.9,1408.5 1427.1,1409.5 1429.3,1410.6 1431.5,1411.6 1433.7,1412.7 1435.9,1413.7 1438.1,1414.7 1440.3,1415.7 1442.5,1416.7 1444.6,1417.7 1446.8,1418.7 1449.0,1419.7 1451.2,1420.7 1453.4,1421.6 1455.6,1422.6 1457.8,1423.5 1460.0,1424.5 1462.2,1425.4 1464.4,1426.3 1466.5,1427.2 1468.7,1428.1 1470.9,1429.0 1473.1,1429.9 1475.3,1430.8 1477.5,1431.7 1479.7,1432.6 1481.9,1433.4 1484.1,1434.3 1486.3,1435.2 1488.4,1436.0 1490.6,1436.8 1492.8,1437.7 1495.0,1438.5 1497.2,1439.3 1499.4,1440.1 1501.6,1440.9 1503.8,1441.7 1506.0,1442.5 1508.2,1443.3 1510.3,1444.1 1512.5,1444.9 1514.7,1445.6 1516.9,1446.4 1519.1,1447.1 1521.3,1447.9 1523.5,1448.6 1525.7,1449.4 1527.9,1450.1 1530.1,1450.8 1532.3,1451.5 1534.4,1452.3 1536.6,1453.0 1538.8,1453.7 1541.0,1454.4 1543.2,1455.1 1545.4,1455.7 1547.6,1456.4 1549.8,1457.1 1552.0,1457.8 1554.2,1458.4 1556.3,1459.1 1558.5,1459.8 1560.7,1460.4 1562.9,1461.1 1565.1,1461.7 1567.3,1462.3 1569.5,1463.0 1571.7,1463.6 1573.9,1464.2 1576.1,1464.9 1578.2,1465.5 1580.4,1466.1 1582.6,1466.7 1584.8,1467.3 1587.0,1467.9 1589.2,1468.5 1591.4,1469.1 1593.6,1469.7 1595.8,1470.2 1598.0,1470.8 1600.1,1471.4 1602.3,1472.0 1604.5,1472.5 1606.7,1473.1 1608.9,1473.7 1611.1,1474.2 1613.3,1474.8 1615.5,1475.3 1617.7,1475.9 1619.9,1476.4 1622.1,1477.0 1624.2,1477.5 1626.4,1478.1 1628.6,1478.6 1630.8,1479.1 1633.0,1479.6 1635.2,1480.2 1637.4,1480.7 1639.6,1481.2 1641.8,1481.7 1644.0,1482.2 1646.1,1482.8 1648.3,1483.3 1650.5,1483.8 1652.7,1484.3 1654.9,1484.8 1657.1,1485.3 1659.3,1485.8 1661.5,1486.3 1663.7,1486.8 1665.9,1487.3 1668.0,1487.8 1670.2,1488.3 1672.4,1488.7 1674.6,1489.2 1676.8,1489.7 1679.0,1490.2 1681.2,1490.7 1683.4,1491.2 1685.6,1491.6 1687.8,1492.1 1689.9,1492.6 1692.1,1493.1 1694.3,1493.6 1696.5,1494.0 1698.7,1494.5 1700.9,1495.0 1703.1,1495.5 1705.3,1495.9 1707.5,1496.4 1709.7,1496.9 1711.8,1497.3 1714.0,1497.8 1716.2,1498.3 1718.4,1498.7 1720.6,1499.2 1722.8,1499.7 1725.0,1500.1 1727.2,1500.6 1729.4,1501.1 1731.6,1501.6 1733.8,1502.0 1735.9,1502.5 1738.1,1503.0 1740.3,1503.4 1742.5,1503.9 1744.7,1504.4 1746.9,1504.8 1749.1,1505.3 1751.3,1505.8 1753.5,1506.3 1755.7,1506.7 1757.8,1507.2 1760.0,1507.7 1762.2,1508.1 1764.4,1508.6 1766.6,1509.1 1768.8,1509.6 1771.0,1510.1 1773.2,1510.5 1775.4,1511.0 1777.6,1511.5 1779.7,1512.0 1781.9,1512.5 1784.1,1513.0 1786.3,1513.5 1788.5,1514.0 1790.7,1514.4 1792.9,1514.9 1795.1,1515.4 1797.3,1515.9 1799.5,1516.4 1801.6,1516.9 1803.8,1517.4 1806.0,1518.0 1808.2,1518.5 1810.4,1519.0 1812.6,1519.5 1814.8,1520.0 1817.0,1520.5 1819.2,1521.0 1821.4,1521.6 1823.6,1522.1 1825.7,1522.6 1827.9,1523.1 1830.1,1523.7 1832.3,1524.2 1834.5,1524.7 1836.7,1525.3 1838.9,1525.8 1841.1,1526.3 1843.3,1526.9 1845.5,1527.4 1847.6,1528.0 1849.8,1528.5 1852.0,1529.1 1854.2,1529.6 1856.4,1530.2 1858.6,1530.7 1860.8,1531.3 1863.0,1531.8 1865.2,1532.4 1867.4,1532.9 1869.5,1533.5 1871.7,1534.1 1873.9,1534.6 1876.1,1535.2 1878.3,1535.8 1880.5,1536.3 1882.7,1536.9 1884.9,1537.5 1887.1,1538.1 1889.3,1538.6 1891.4,1539.2 1893.6,1539.8 1895.8,1540.4 1898.0,1541.0 1900.2,1541.6 1902.4,1542.1 1904.6,1542.7 1906.8,1543.3 1909.0,1543.9 1911.2,1544.5 1913.3,1545.1 1915.5,1545.7 1917.7,1546.3 1919.9,1546.9 1922.1,1547.5 1924.3,1548.1 1926.5,1548.7 1928.7,1549.3 1930.9,1549.9 1933.1,1550.5 1935.3,1551.1 1937.4,1551.8 1939.6,1552.4 1941.8,1553.0 1944.0,1553.6 1946.2,1554.2 1948.4,1554.8 1950.6,1555.5 1952.8,1556.1 1955.0,1556.7 1957.2,1557.3 1959.3,1557.9 1961.5,1558.6 1963.7,1559.2 1965.9,1559.8 1968.1,1560.5 1970.3,1561.1 1972.5,1561.7 1974.7,1562.4 1976.9,1563.0 1979.1,1563.6 1981.2,1564.3 1983.4,1564.9 1985.6,1565.5 1987.8,1566.2 1990.0,1566.8 1992.2,1567.5 1994.4,1568.1 1996.6,1568.8 1998.8,1569.4 2001.0,1570.1 2003.1,1570.7 2005.3,1571.4 2007.5,1572.0 2009.7,1572.7 2011.9,1573.3 2014.1,1574.0 2016.3,1574.6 2018.5,1575.3 2020.7,1575.9 2022.9,1576.6 2025.0,1577.3 2027.2,1577.9 2029.4,1578.6 2031.6,1579.3 2033.8,1579.9 2036.0,1580.6 2038.2,1581.2 2040.4,1581.9 2042.6,1582.6 2044.8,1583.3 2047.0,1583.9 2049.1,1584.6 2051.3,1585.3 2053.5,1585.9 2055.7,1586.6 2057.9,1587.3 2060.1,1588.0 2062.3,1588.6 2064.5,1589.3 2066.7,1590.0 2068.9,1590.7 2071.0,1591.3 2073.2,1592.0 2075.4,1592.7 2077.6,1593.4 2079.8,1594.1 2082.0,1594.8 2084.2,1595.4 2086.4,1596.1 2088.6,1596.8 2090.8,1597.5 2092.9,1598.2 2095.1,1598.9 2097.3,1599.6 2099.5,1600.2 2101.7,1600.9 2103.9,1601.6 2106.1,1602.3 2108.3,1603.0 2110.5,1603.7 2112.7,1604.4 2114.8,1605.1 2117.0,1605.8 2119.2,1606.5 2121.4,1607.2 2123.6,1607.9 2125.8,1608.6 2128.0,1609.3 2130.2,1609.9 2132.4,1610.6 2134.6,1611.3 2136.8,1612.0 2138.9,1612.7 2141.1,1613.4 2143.3,1614.1 2145.5,1614.8 2147.7,1615.5 2149.9,1616.2 2152.1,1616.9 2154.3,1617.6 2156.5,1618.3 2158.7,1619.0 2160.8,1619.8 2163.0,1620.5 2165.2,1621.2 2167.4,1621.9 2169.6,1622.6 2171.8,1623.3 2174.0,1624.0 2176.2,1624.7 2178.4,1625.4 2180.6,1626.1 2182.7,1626.8 2184.9,1627.5 2187.1,1628.2 2189.3,1628.9 2191.5,1629.6 2193.7,1630.3 2195.9,1631.0 2198.1,1631.7 2200.3,1632.5 2202.5,1633.2 2204.6,1633.9 2206.8,1634.6 2209.0,1635.3 2211.2,1636.0 2213.4,1636.7 2215.6,1637.4 2217.8,1638.1 2220.0,1638.8 2222.2,1639.5 2224.4,1640.3 2226.5,1641.0 2228.7,1641.7 2230.9,1642.4 2233.1,1643.1 2235.3,1643.8 2237.5,1644.5" fill="none" stroke="#008000" stroke-width="11.6" stroke-linejoin="round"/>
<polygon points="268.5,1605.3 291.5,1628.5 268.5,1651.8 245.5,1628.5" fill="#008000"/>
<polygon points="323.2,1605.3 346.2,1628.5 323.2,1651.8 300.2,1628.5" fill="#008000"/>
<polygon points="394.3,1589.3 417.3,1612.5 394.3,1635.8 371.3,1612.5" fill="#008000"/>
<polygon points="487.3,1573.3 510.3,1596.5 487.3,1619.8 464.3,1596.5" fill="#008000"/>
<polygon points="596.7,1509.3 619.7,1532.5 596.7,1555.8 573.7,1532.5" fill="#008000"/>
<polygon points="738.9,1397.3 761.9,1420.6 738.9,1443.8 715.9,1420.6" fill="#008000"/>
<polygon points="924.8,1253.4 947.8,1276.6 924.8,1299.9 901.8,1276.6" fill="#008000"/>
<polygon points="1143.6,1237.4 1166.6,1260.6 1143.6,1283.9 1120.6,1260.6" fill="#008000"/>
<polygon points="1417.1,1381.3 1440.1,1404.6 1417.1,1427.8 1394.1,1404.6" fill="#008000"/>
<polygon points="1799.9,1493.3 1822.9,1516.5 1799.9,1539.8 1776.9,1516.5" fill="#008000"/>
<polygon points="2237.5,1621.3 2260.5,1644.5 2237.5,1667.8 2214.5,1644.5" fill="#008000"/>
<polyline points="268.5,1612.5 270.7,1613.3 272.9,1614.0 275.1,1614.8 277.3,1615.5 279.5,1616.3 281.6,1617.0 283.8,1617.8 286.0,1618.5 288.2,1619.2 290.4,1619.9 292.6,1620.6 294.8,1621.3 297.0,1622.0 299.2,1622.6 301.4,1623.3 303.5,1623.9 305.7,1624.5 307.9,1625.1 310.1,1625.6 312.3,1626.2 314.5,1626.7 316.7,1627.2 318.9,1627.7 321.1,1628.1 323.3,1628.5 325.4,1628.9 327.6,1629.3 329.8,1629.6 332.0,1629.9 334.2,1630.2 336.4,1630.4 338.6,1630.7 340.8,1630.9 343.0,1631.0 345.2,1631.2 347.3,1631.3 349.5,1631.4 351.7,1631.5 353.9,1631.5 356.1,1631.6 358.3,1631.6 360.5,1631.5 362.7,1631.5 364.9,1631.4 367.1,1631.3 369.2,1631.2 371.4,1631.1 373.6,1630.9 375.8,1630.8 378.0,1630.6 380.2,1630.4 382.4,1630.1 384.6,1629.9 386.8,1629.6 389.0,1629.3 391.2,1629.0 393.3,1628.7 395.5,1628.3 397.7,1628.0 399.9,1627.6 402.1,1627.2 404.3,1626.8 406.5,1626.4 408.7,1625.9 410.9,1625.5 413.1,1625.0 415.2,1624.6 417.4,1624.1 419.6,1623.6 421.8,1623.2 424.0,1622.7 426.2,1622.2 428.4,1621.7 430.6,1621.2 432.8,1620.8 435.0,1620.3 437.1,1619.8 439.3,1619.3 441.5,1618.9 443.7,1618.4 445.9,1618.0 448.1,1617.5 450.3,1617.1 452.5,1616.7 454.7,1616.3 456.9,1615.9 459.0,1615.5 461.2,1615.2 463.4,1614.8 465.6,1614.5 467.8,1614.2 470.0,1613.9 472.2,1613.6 474.4,1613.4 476.6,1613.2 478.8,1613.0 481.0,1612.8 483.1,1612.7 485.3,1612.6 487.5,1612.5 489.7,1612.5 491.9,1612.5 494.1,1612.5 496.3,1612.5 498.5,1612.6 500.7,1612.7 502.9,1612.8 505.0,1612.9 507.2,1613.1 509.4,1613.3 511.6,1613.5 513.8,1613.7 516.0,1614.0 518.2,1614.2 520.4,1614.5 522.6,1614.8 524.8,1615.2 526.9,1615.5 529.1,1615.8 531.3,1616.2 533.5,1616.6 535.7,1617.0 537.9,1617.4 540.1,1617.8 542.3,1618.2 544.5,1618.6 546.7,1619.0 548.8,1619.5 551.0,1619.9 553.2,1620.4 555.4,1620.8 557.6,1621.2 559.8,1621.7 562.0,1622.1 564.2,1622.6 566.4,1623.0 568.6,1623.5 570.7,1623.9 572.9,1624.4 575.1,1624.8 577.3,1625.2 579.5,1625.6 581.7,1626.0 583.9,1626.4 586.1,1626.8 588.3,1627.2 590.5,1627.6 592.7,1627.9 594.8,1628.2 597.0,1628.6 599.2,1628.9 601.4,1629.2 603.6,1629.4 605.8,1629.7 608.0,1630.0 610.2,1630.2 612.4,1630.4 614.6,1630.6 616.7,1630.8 618.9,1631.0 621.1,1631.2 623.3,1631.3 625.5,1631.5 627.7,1631.6 629.9,1631.7 632.1,1631.8 634.3,1631.9 636.5,1632.0 638.6,1632.1 640.8,1632.1 643.0,1632.2 645.2,1632.2 647.4,1632.3 649.6,1632.3 651.8,1632.3 654.0,1632.3 656.2,1632.3 658.4,1632.3 660.5,1632.3 662.7,1632.3 664.9,1632.2 667.1,1632.2 669.3,1632.1 671.5,1632.1 673.7,1632.0 675.9,1631.9 678.1,1631.9 680.3,1631.8 682.4,1631.7 684.6,1631.6 686.8,1631.5 689.0,1631.4 691.2,1631.3 693.4,1631.2 695.6,1631.1 697.8,1631.0 700.0,1630.9 702.2,1630.7 704.4,1630.6 706.5,1630.5 708.7,1630.4 710.9,1630.2 713.1,1630.1 715.3,1630.0 717.5,1629.8 719.7,1629.7 721.9,1629.6 724.1,1629.4 726.3,1629.3 728.4,1629.2 730.6,1629.0 732.8,1628.9 735.0,1628.7 737.2,1628.6 739.4,1628.5 741.6,1628.4 743.8,1628.2 746.0,1628.1 748.2,1628.0 750.3,1627.8 752.5,1627.7 754.7,1627.6 756.9,1627.5 759.1,1627.4 761.3,1627.2 763.5,1627.1 765.7,1627.0 767.9,1626.9 770.1,1626.8 772.2,1626.7 774.4,1626.5 776.6,1626.4 778.8,1626.3 781.0,1626.2 783.2,1626.1 785.4,1625.9 787.6,1625.8 789.8,1625.7 792.0,1625.6 794.2,1625.5 796.3,1625.3 798.5,1625.2 800.7,1625.1 802.9,1625.0 805.1,1624.8 807.3,1624.7 809.5,1624.6 811.7,1624.4 813.9,1624.3 816.1,1624.2 818.2,1624.0 820.4,1623.9 822.6,1623.7 824.8,1623.6 827.0,1623.5 829.2,1623.3 831.4,1623.2 833.6,1623.0 835.8,1622.8 838.0,1622.7 840.1,1622.5 842.3,1622.3 844.5,1622.2 846.7,1622.0 848.9,1621.8 851.1,1621.6 853.3,1621.4 855.5,1621.2 857.7,1621.1 859.9,1620.9 862.0,1620.6 864.2,1620.4 866.4,1620.2 868.6,1620.0 870.8,1619.8 873.0,1619.6 875.2,1619.3 877.4,1619.1 879.6,1618.9 881.8,1618.6 883.9,1618.4 886.1,1618.1 888.3,1617.8 890.5,1617.6 892.7,1617.3 894.9,1617.0 897.1,1616.7 899.3,1616.4 901.5,1616.1 903.7,1615.8 905.9,1615.5 908.0,1615.2 910.2,1614.9 912.4,1614.5 914.6,1614.2 916.8,1613.8 919.0,1613.5 921.2,1613.1 923.4,1612.8 925.6,1612.4 927.8,1612.0 929.9,1611.6 932.1,1611.2 934.3,1610.8 936.5,1610.4 938.7,1610.0 940.9,1609.6 943.1,1609.1 945.3,1608.7 947.5,1608.3 949.7,1607.8 951.8,1607.4 954.0,1606.9 956.2,1606.4 958.4,1606.0 960.6,1605.5 962.8,1605.0 965.0,1604.5 967.2,1604.0 969.4,1603.5 971.6,1603.1 973.7,1602.6 975.9,1602.0 978.1,1601.5 980.3,1601.0 982.5,1600.5 984.7,1600.0 986.9,1599.5 989.1,1598.9 991.3,1598.4 993.5,1597.9 995.7,1597.4 997.8,1596.8 1000.0,1596.3 1002.2,1595.7 1004.4,1595.2 1006.6,1594.7 1008.8,1594.1 1011.0,1593.6 1013.2,1593.0 1015.4,1592.5 1017.6,1591.9 1019.7,1591.4 1021.9,1590.8 1024.1,1590.3 1026.3,1589.7 1028.5,1589.2 1030.7,1588.6 1032.9,1588.1 1035.1,1587.5 1037.3,1587.0 1039.5,1586.5 1041.6,1585.9 1043.8,1585.4 1046.0,1584.8 1048.2,1584.3 1050.4,1583.7 1052.6,1583.2 1054.8,1582.7 1057.0,1582.1 1059.2,1581.6 1061.4,1581.1 1063.5,1580.5 1065.7,1580.0 1067.9,1579.5 1070.1,1579.0 1072.3,1578.5 1074.5,1578.0 1076.7,1577.4 1078.9,1576.9 1081.1,1576.4 1083.3,1575.9 1085.4,1575.5 1087.6,1575.0 1089.8,1574.5 1092.0,1574.0 1094.2,1573.5 1096.4,1573.1 1098.6,1572.6 1100.8,1572.2 1103.0,1571.7 1105.2,1571.3 1107.4,1570.8 1109.5,1570.4 1111.7,1570.0 1113.9,1569.5 1116.1,1569.1 1118.3,1568.7 1120.5,1568.3 1122.7,1567.9 1124.9,1567.5 1127.1,1567.1 1129.3,1566.8 1131.4,1566.4 1133.6,1566.1 1135.8,1565.7 1138.0,1565.4 1140.2,1565.0 1142.4,1564.7 1144.6,1564.4 1146.8,1564.1 1149.0,1563.8 1151.2,1563.5 1153.3,1563.2 1155.5,1563.0 1157.7,1562.7 1159.9,1562.4 1162.1,1562.2 1164.3,1561.9 1166.5,1561.7 1168.7,1561.5 1170.9,1561.3 1173.1,1561.1 1175.2,1560.9 1177.4,1560.7 1179.6,1560.5 1181.8,1560.3 1184.0,1560.1 1186.2,1560.0 1188.4,1559.8 1190.6,1559.7 1192.8,1559.5 1195.0,1559.4 1197.1,1559.2 1199.3,1559.1 1201.5,1559.0 1203.7,1558.9 1205.9,1558.8 1208.1,1558.7 1210.3,1558.6 1212.5,1558.5 1214.7,1558.4 1216.9,1558.3 1219.1,1558.3 1221.2,1558.2 1223.4,1558.2 1225.6,1558.1 1227.8,1558.1 1230.0,1558.0 1232.2,1558.0 1234.4,1557.9 1236.6,1557.9 1238.8,1557.9 1241.0,1557.9 1243.1,1557.9 1245.3,1557.9 1247.5,1557.9 1249.7,1557.9 1251.9,1557.9 1254.1,1557.9 1256.3,1557.9 1258.5,1557.9 1260.7,1557.9 1262.9,1558.0 1265.0,1558.0 1267.2,1558.0 1269.4,1558.1 1271.6,1558.1 1273.8,1558.2 1276.0,1558.2 1278.2,1558.3 1280.4,1558.3 1282.6,1558.4 1284.8,1558.4 1286.9,1558.5 1289.1,1558.6 1291.3,1558.6 1293.5,1558.7 1295.7,1558.8 1297.9,1558.9 1300.1,1559.0 1302.3,1559.0 1304.5,1559.1 1306.7,1559.2 1308.9,1559.3 1311.0,1559.4 1313.2,1559.5 1315.4,1559.6 1317.6,1559.7 1319.8,1559.8 1322.0,1559.9 1324.2,1560.0 1326.4,1560.1 1328.6,1560.2 1330.8,1560.3 1332.9,1560.4 1335.1,1560.5 1337.3,1560.6 1339.5,1560.7 1341.7,1560.9 1343.9,1561.0 1346.1,1561.1 1348.3,1561.2 1350.5,1561.3 1352.7,1561.4 1354.8,1561.5 1357.0,1561.7 1359.2,1561.8 1361.4,1561.9 1363.6,1562.0 1365.8,1562.1 1368.0,1562.2 1370.2,1562.3 1372.4,1562.5 1374.6,1562.6 1376.7,1562.7 1378.9,1562.8 1381.1,1562.9 1383.3,1563.0 1385.5,1563.1 1387.7,1563.2 1389.9,1563.3 1392.1,1563.4 1394.3,1563.6 1396.5,1563.7 1398.6,1563.8 1400.8,1563.9 1403.0,1564.0 1405.2,1564.0 1407.4,1564.1 1409.6,1564.2 1411.8,1564.3 1414.0,1564.4 1416.2,1564.5 1418.4,1564.6 1420.6,1564.7 1422.7,1564.7 1424.9,1564.8 1427.1,1564.9 1429.3,1565.0 1431.5,1565.0 1433.7,1565.1 1435.9,1565.2 1438.1,1565.2 1440.3,1565.3 1442.5,1565.4 1444.6,1565.4 1446.8,1565.5 1449.0,1565.5 1451.2,1565.6 1453.4,1565.6 1455.6,1565.7 1457.8,1565.7 1460.0,1565.8 1462.2,1565.8 1464.4,1565.8 1466.5,1565.9 1468.7,1565.9 1470.9,1565.9 1473.1,1566.0 1475.3,1566.0 1477.5,1566.0 1479.7,1566.1 1481.9,1566.1 1484.1,1566.1 1486.3,1566.1 1488.4,1566.2 1490.6,1566.2 1492.8,1566.2 1495.0,1566.2 1497.2,1566.2 1499.4,1566.2 1501.6,1566.2 1503.8,1566.3 1506.0,1566.3 1508.2,1566.3 1510.3,1566.3 1512.5,1566.3 1514.7,1566.3 1516.9,1566.3 1519.1,1566.3 1521.3,1566.3 1523.5,1566.3 1525.7,1566.3 1527.9,1566.3 1530.1,1566.3 1532.3,1566.3 1534.4,1566.3 1536.6,1566.3 1538.8,1566.2 1541.0,1566.2 1543.2,1566.2 1545.4,1566.2 1547.6,1566.2 1549.8,1566.2 1552.0,1566.2 1554.2,1566.1 1556.3,1566.1 1558.5,1566.1 1560.7,1566.1 1562.9,1566.1 1565.1,1566.1 1567.3,1566.0 1569.5,1566.0 1571.7,1566.0 1573.9,1566.0 1576.1,1565.9 1578.2,1565.9 1580.4,1565.9 1582.6,1565.9 1584.8,1565.8 1587.0,1565.8 1589.2,1565.8 1591.4,1565.8 1593.6,1565.7 1595.8,1565.7 1598.0,1565.7 1600.1,1565.6 1602.3,1565.6 1604.5,1565.6 1606.7,1565.6 1608.9,1565.5 1611.1,1565.5 1613.3,1565.5 1615.5,1565.4 1617.7,1565.4 1619.9,1565.4 1622.1,1565.3 1624.2,1565.3 1626.4,1565.3 1628.6,1565.2 1630.8,1565.2 1633.0,1565.2 1635.2,1565.1 1637.4,1565.1 1639.6,1565.1 1641.8,1565.1 1644.0,1565.0 1646.1,1565.0 1648.3,1565.0 1650.5,1564.9 1652.7,1564.9 1654.9,1564.9 1657.1,1564.8 1659.3,1564.8 1661.5,1564.8 1663.7,1564.7 1665.9,1564.7 1668.0,1564.7 1670.2,1564.7 1672.4,1564.6 1674.6,1564.6 1676.8,1564.6 1679.0,1564.5 1681.2,1564.5 1683.4,1564.5 1685.6,1564.5 1687.8,1564.4 1689.9,1564.4 1692.1,1564.4 1694.3,1564.4 1696.5,1564.4 1698.7,1564.3 1700.9,1564.3 1703.1,1564.3 1705.3,1564.3 1707.5,1564.3 1709.7,1564.2 1711.8,1564.2 1714.0,1564.2 1716.2,1564.2 1718.4,1564.2 1720.6,1564.2 1722.8,1564.2 1725.0,1564.1 1727.2,1564.1 1729.4,1564.1 1731.6,1564.1 1733.8,1564.1 1735.9,1564.1 1738.1,1564.1 1740.3,1564.1 1742.5,1564.1 1744.7,1564.1 1746.9,1564.1 1749.1,1564.1 1751.3,1564.1 1753.5,1564.1 1755.7,1564.1 1757.8,1564.1 1760.0,1564.1 1762.2,1564.1 1764.4,1564.1 1766.6,1564.2 1768.8,1564.2 1771.0,1564.2 1773.2,1564.2 1775.4,1564.2 1777.6,1564.2 1779.7,1564.3 1781.9,1564.3 1784.1,1564.3 1786.3,1564.3 1788.5,1564.4 1790.7,1564.4 1792.9,1564.4 1795.1,1564.5 1797.3,1564.5 1799.5,1564.5 1801.6,1564.6 1803.8,1564.6 1806.0,1564.6 1808.2,1564.7 1810.4,1564.7 1812.6,1564.8 1814.8,1564.8 1817.0,1564.9 1819.2,1564.9 1821.4,1565.0 1823.6,1565.1 1825.7,1565.1 1827.9,1565.2 1830.1,1565.2 1832.3,1565.3 1834.5,1565.4 1836.7,1565.4 1838.9,1565.5 1841.1,1565.6 1843.3,1565.6 1845.5,1565.7 1847.6,1565.8 1849.8,1565.9 1852.0,1565.9 1854.2,1566.0 1856.4,1566.1 1858.6,1566.2 1860.8,1566.3 1863.0,1566.4 1865.2,1566.4 1867.4,1566.5 1869.5,1566.6 1871.7,1566.7 1873.9,1566.8 1876.1,1566.9 1878.3,1567.0 1880.5,1567.1 1882.7,1567.2 1884.9,1567.3 1887.1,1567.4 1889.3,1567.5 1891.4,1567.6 1893.6,1567.7 1895.8,1567.8 1898.0,1567.9 1900.2,1568.1 1902.4,1568.2 1904.6,1568.3 1906.8,1568.4 1909.0,1568.5 1911.2,1568.6 1913.3,1568.8 1915.5,1568.9 1917.7,1569.0 1919.9,1569.1 1922.1,1569.2 1924.3,1569.4 1926.5,1569.5 1928.7,1569.6 1930.9,1569.8 1933.1,1569.9 1935.3,1570.0 1937.4,1570.2 1939.6,1570.3 1941.8,1570.4 1944.0,1570.6 1946.2,1570.7 1948.4,1570.9 1950.6,1571.0 1952.8,1571.1 1955.0,1571.3 1957.2,1571.4 1959.3,1571.6 1961.5,1571.7 1963.7,1571.9 1965.9,1572.0 1968.1,1572.2 1970.3,1572.3 1972.5,1572.5 1974.7,1572.6 1976.9,1572.8 1979.1,1572.9 1981.2,1573.1 1983.4,1573.3 1985.6,1573.4 1987.8,1573.6 1990.0,1573.7 1992.2,1573.9 1994.4,1574.1 1996.6,1574.2 1998.8,1574.4 2001.0,1574.6 2003.1,1574.7 2005.3,1574.9 2007.5,1575.1 2009.7,1575.2 2011.9,1575.4 2014.1,1575.6 2016.3,1575.8 2018.5,1575.9 2020.7,1576.1 2022.9,1576.3 2025.0,1576.5 2027.2,1576.7 2029.4,1576.8 2031.6,1577.0 2033.8,1577.2 2036.0,1577.4 2038.2,1577.6 2040.4,1577.7 2042.6,1577.9 2044.8,1578.1 2047.0,1578.3 2049.1,1578.5 2051.3,1578.7 2053.5,1578.9 2055.7,1579.0 2057.9,1579.2 2060.1,1579.4 2062.3,1579.6 2064.5,1579.8 2066.7,1580.0 2068.9,1580.2 2071.0,1580.4 2073.2,1580.6 2075.4,1580.8 2077.6,1581.0 2079.8,1581.2 2082.0,1581.4 2084.2,1581.6 2086.4,1581.8 2088.6,1582.0 2090.8,1582.2 2092.9,1582.4 2095.1,1582.6 2097.3,1582.8 2099.5,1583.0 2101.7,1583.2 2103.9,1583.4 2106.1,1583.6 2108.3,1583.8 2110.5,1584.0 2112.7,1584.2 2114.8,1584.4 2117.0,1584.6 2119.2,1584.8 2121.4,1585.0 2123.6,1585.2 2125.8,1585.5 2128.0,1585.7 2130.2,1585.9 2132.4,1586.1 2134.6,1586.3 2136.8,1586.5 2138.9,1586.7 2141.1,1586.9 2143.3,1587.1 2145.5,1587.4 2147.7,1587.6 2149.9,1587.8 2152.1,1588.0 2154.3,1588.2 2156.5,1588.4 2158.7,1588.6 2160.8,1588.9 2163.0,1589.1 2165.2,1589.3 2167.4,1589.5 2169.6,1589.7 2171.8,1589.9 2174.0,1590.2 2176.2,1590.4 2178.4,1590.6 2180.6,1590.8 2182.7,1591.0 2184.9,1591.2 2187.1,1591.5 2189.3,1591.7 2191.5,1591.9 2193.7,1592.1 2195.9,1592.3 2198.1,1592.6 2200.3,1592.8 2202.5,1593.0 2204.6,1593.2 2206.8,1593.4 2209.0,1593.7 2211.2,1593.9 2213.4,1594.1 2215.6,1594.3 2217.8,1594.5 2220.0,1594.8 2222.2,1595.0 2224.4,1595.2 2226.5,1595.4 2228.7,1595.6 2230.9,1595.9 2233.1,1596.1 2235.3,1596.3 2237.5,1596.5" fill="none" stroke="#000080" stroke-width="11.6" stroke-linejoin="round"/>
<polygon points="243.2,1612.5 281.2,1590.8 281.2,1634.3" fill="#000080"/>
<polygon points="297.9,1628.5 335.9,1606.8 335.9,1650.3" fill="#000080"/>
<polygon points="369.0,1628.5 407.0,1606.8 407.0,1650.3" fill="#000080"/>
<polygon points="461.9,1612.5 499.9,1590.8 499.9,1634.3" fill="#000080"/>
<polygon points="571.3,1628.5 609.3,1606.8 609.3,1650.3" fill="#000080"/>
<polygon points="713.5,1628.5 751.5,1606.8 751.5,1650.3" fill="#000080"/>
<polygon points="899.5,1612.5 937.5,1590.8 937.5,1634.3" fill="#000080"/>
<polygon points="1118.3,1564.5 1156.3,1542.8 1156.3,1586.3" fill="#000080"/>
<polygon points="1391.8,1564.5 1429.8,1542.8 1429.8,1586.3" fill="#000080"/>
<polygon points="1774.6,1564.5 1812.6,1542.8 1812.6,1586.3" fill="#000080"/>
<polygon points="2212.2,1596.5 2250.2,1574.8 2250.2,1618.3" fill="#000080"/>
</g>
<rect x="1411.2" y="148.2" width="146.7" height="10.6" fill="#000000"/>
<rect x="1468.1" y="137.2" width="32.6" height="32.6" fill="#000000"/>
<text x="1566.7" y="172.5" font-size="58.6">PUFM</text>
<rect x="1411.2" y="224.4" width="146.7" height="10.6" fill="#ff0000"/>
<circle cx="1484.4" cy="229.7" r="17.8" fill="#ff0000"/>
<text x="1566.7" y="248.7" font-size="58.6">NBR-PUFM-NBR (1:8:1)</text>
<rect x="1411.2" y="300.7" width="146.7" height="10.6" fill="#0000ff"/>
<polygon points="1484.4,280.3 1463.4,318.8 1505.4,318.8" fill="#0000ff"/>
<text x="1566.7" y="325.0" font-size="58.6">NBR-PUFM-NBR (2:6:2)</text>
<rect x="1411.2" y="377.1" width="146.7" height="10.6" fill="#ff00ff"/>
<polygon points="1484.4,407.8 1463.9,369.7 1504.9,369.7" fill="#ff00ff"/>
<text x="1566.7" y="401.4" font-size="58.6">NBR-PUFM-NBR (3:4:3)</text>
<rect x="1411.2" y="452.7" width="146.7" height="10.6" fill="#008000"/>
<polygon points="1484.4,433.5 1506.4,458.0 1484.4,482.5 1462.4,458.0" fill="#008000"/>
<text x="1566.7" y="477.0" font-size="58.6">NBR-PUFM-NBR (4:2:4)</text>
<rect x="1411.2" y="528.9" width="146.7" height="10.6" fill="#000080"/>
<polygon points="1459.5,534.2 1496.8,512.3 1496.8,556.1" fill="#000080"/>
<text x="1566.7" y="553.2" font-size="58.6">NBR</text>
</svg></body></html>
